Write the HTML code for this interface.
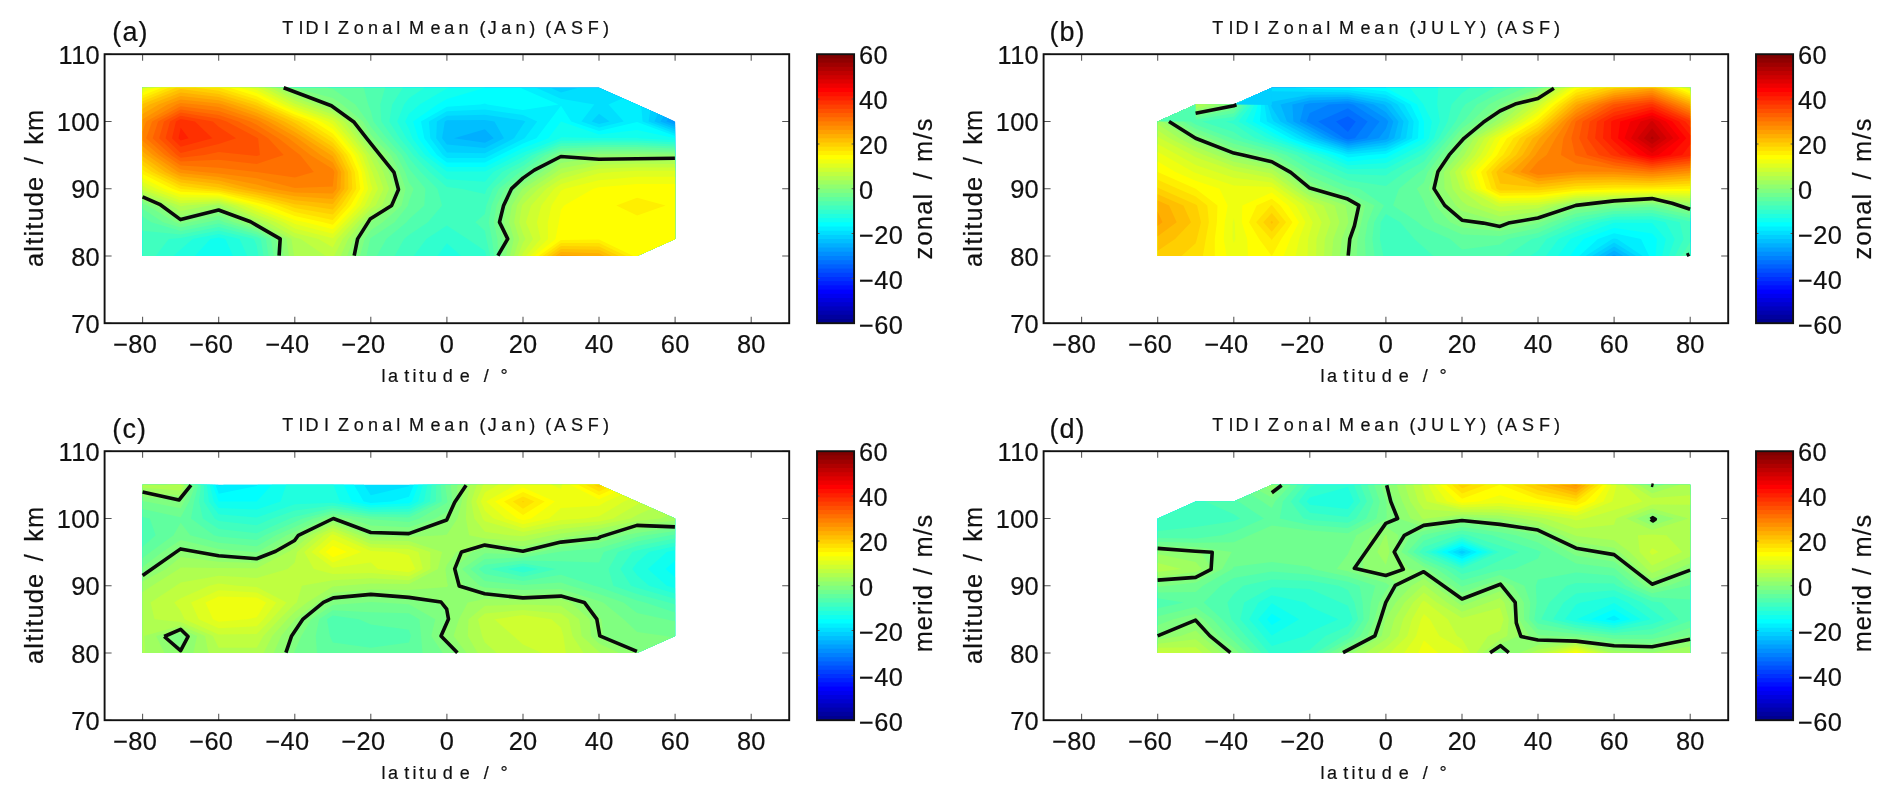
<!DOCTYPE html>
<html lang="en"><head><meta charset="utf-8"><title>TIDI Zonal Mean</title>
<style>
html,body{margin:0;padding:0;background:#fff}
body{width:1892px;height:800px;overflow:hidden}
svg{display:block;filter:blur(.45px);font-family:"Liberation Sans",sans-serif;fill:#111}
text{stroke:#111;stroke-width:.2px}
.t25{font-size:25.4px;letter-spacing:.3px}
.e{text-anchor:end}
.m{text-anchor:middle}
.yl{letter-spacing:1.2px;word-spacing:3px}
.cl{letter-spacing:1.2px;word-spacing:3px}
.cl2{letter-spacing:.9px;word-spacing:1.5px}
.ax{fill:none;stroke:#111;stroke-width:1.9}
.tk{fill:none;stroke:#555;stroke-width:1.05}
.zl{fill:none;stroke:#0a0a0a;stroke-width:3.6;stroke-linejoin:round;stroke-linecap:butt}
</style></head><body>
<svg width="1892" height="800" viewBox="0 0 1892 800">
<rect width="1892" height="800" fill="#fff"/>
<g>
<clipPath id="clipa"><polygon points="142.6,87.8 599,87.8 675.1,121.5 675.1,239.1 637.1,255.9 142.6,255.9"/></clipPath>
<g clip-path="url(#clipa)">
<rect x="135.9" y="80.1" width="545.9" height="183.6" fill="#008fff"/>
<path d="M136.9 82.4L142.6 82.4L180.7 82.4L218.7 82.4L256.7 82.4L294.8 82.4L332.8 82.4L370.8 82.4L408.9 82.4L446.9 82.4L484.9 82.4L523 82.4L561 82.4L599 82.4L637.1 82.4L675.1 82.4L680.8 82.4L680.8 87.8L680.8 104.6L680.8 117.8L675.1 117.8L672.3 121.4L675.1 122.5L680.8 122.5L680.8 138.3L680.8 155.1L680.8 171.9L680.8 188.7L680.8 205.5L680.8 222.3L680.8 239.1L680.8 255.9L680.8 261.3L675.1 261.3L637.1 261.3L599 261.3L561 261.3L523 261.3L484.9 261.3L446.9 261.3L408.9 261.3L370.8 261.3L332.8 261.3L294.8 261.3L256.7 261.3L218.7 261.3L180.7 261.3L142.6 261.3L136.9 261.3L136.9 255.9L136.9 239.1L136.9 222.3L136.9 205.5L136.9 188.7L136.9 171.9L136.9 155.1L136.9 138.3L136.9 121.5L136.9 104.6L136.9 87.8Z" fill="#009fff"/>
<path d="M136.9 82.4L142.6 82.4L180.7 82.4L218.7 82.4L256.7 82.4L294.8 82.4L332.8 82.4L370.8 82.4L408.9 82.4L446.9 82.4L484.9 82.4L523 82.4L561 82.4L599 82.4L637.1 82.4L675.1 82.4L680.8 82.4L680.8 87.8L680.8 104.6L680.8 109.9L675.1 109.9L666.4 121.5L675.1 124.8L680.8 124.8L680.8 138.3L680.8 155.1L680.8 171.9L680.8 188.7L680.8 205.5L680.8 222.3L680.8 239.1L680.8 255.9L680.8 261.3L675.1 261.3L637.1 261.3L599 261.3L561 261.3L523 261.3L484.9 261.3L446.9 261.3L408.9 261.3L370.8 261.3L332.8 261.3L294.8 261.3L256.7 261.3L218.7 261.3L180.7 261.3L142.6 261.3L136.9 261.3L136.9 255.9L136.9 239.1L136.9 222.3L136.9 205.5L136.9 188.7L136.9 171.9L136.9 155.1L136.9 138.3L136.9 121.5L136.9 104.6L136.9 87.8Z" fill="#00afff"/>
<path d="M136.9 82.4L142.6 82.4L180.7 82.4L218.7 82.4L256.7 82.4L294.8 82.4L332.8 82.4L370.8 82.4L408.9 82.4L446.9 82.4L484.9 82.4L523 82.4L561 82.4L599 82.4L637.1 82.4L666.3 82.4L666.3 87.8L671.7 104.6L660.4 121.5L675.1 127L680.8 127L680.8 138.3L680.8 155.1L680.8 171.9L680.8 188.7L680.8 205.5L680.8 222.3L680.8 239.1L680.8 255.9L680.8 261.3L675.1 261.3L637.1 261.3L599 261.3L561 261.3L523 261.3L484.9 261.3L446.9 261.3L408.9 261.3L370.8 261.3L332.8 261.3L294.8 261.3L256.7 261.3L218.7 261.3L180.7 261.3L142.6 261.3L136.9 261.3L136.9 255.9L136.9 239.1L136.9 222.3L136.9 205.5L136.9 188.7L136.9 171.9L136.9 155.1L136.9 138.3L136.9 121.5L136.9 104.6L136.9 87.8ZM484.9 129.2L454 138.3L484.9 142.8L493.8 138.3Z" fill="#00bfff"/>
<path d="M136.9 82.4L142.6 82.4L180.7 82.4L218.7 82.4L256.7 82.4L294.8 82.4L332.8 82.4L370.8 82.4L408.9 82.4L446.9 82.4L484.9 82.4L523 82.4L561 82.4L599 82.4L637.1 82.4L656.1 82.4L656.1 87.8L661.5 104.6L654.5 121.5L675.1 129.3L680.8 129.3L680.8 138.3L680.8 155.1L680.8 171.9L680.8 188.7L680.8 205.5L680.8 222.3L680.8 239.1L680.8 255.9L680.8 261.3L675.1 261.3L637.1 261.3L599 261.3L561 261.3L523 261.3L484.9 261.3L446.9 261.3L408.9 261.3L370.8 261.3L332.8 261.3L294.8 261.3L256.7 261.3L218.7 261.3L180.7 261.3L142.6 261.3L136.9 261.3L136.9 255.9L136.9 239.1L136.9 222.3L136.9 205.5L136.9 188.7L136.9 171.9L136.9 155.1L136.9 138.3L136.9 121.5L136.9 104.6L136.9 87.8ZM446.9 120.2L444.8 121.5L442.1 138.3L446.9 144.6L484.9 148.1L504 138.3L494.4 121.5L484.9 120Z" fill="#00cfff"/>
<path d="M136.9 82.4L142.6 82.4L180.7 82.4L218.7 82.4L256.7 82.4L294.8 82.4L332.8 82.4L370.8 82.4L408.9 82.4L446.9 82.4L484.9 82.4L523 82.4L550.5 82.4L550.5 87.8L561 92.4L578.4 87.8L578.4 82.4L599 82.4L637.1 82.4L645.9 82.4L645.9 87.8L651.3 104.6L648.6 121.5L675.1 131.5L680.8 131.5L680.8 138.3L680.8 155.1L680.8 171.9L680.8 188.7L680.8 205.5L680.8 222.3L680.8 239.1L680.8 255.9L680.8 261.3L675.1 261.3L637.1 261.3L599 261.3L561 261.3L523 261.3L484.9 261.3L446.9 261.3L408.9 261.3L370.8 261.3L332.8 261.3L294.8 261.3L256.7 261.3L218.7 261.3L180.7 261.3L142.6 261.3L136.9 261.3L136.9 255.9L136.9 239.1L136.9 222.3L136.9 205.5L136.9 188.7L136.9 171.9L136.9 155.1L136.9 138.3L136.9 121.5L136.9 104.6L136.9 87.8ZM446.9 115.7L436.9 121.5L436.2 138.3L446.9 152.4L484.9 153.3L514.1 138.3L523 124.6L525.3 121.5L523 120.4L484.9 114.8ZM599 113.7L591.6 121.5L599 124L609.5 121.5Z" fill="#00dfff"/>
<path d="M136.9 82.4L142.6 82.4L180.7 82.4L218.7 82.4L256.7 82.4L294.8 82.4L332.8 82.4L370.8 82.4L408.9 82.4L446.9 82.4L484.9 82.4L523 82.4L536.3 82.4L536.3 87.8L561 98.8L594.3 104.6L581.4 121.5L599 127.5L623.8 121.5L608.5 104.6L637.1 92L641.1 104.6L642.6 121.5L675.1 133.8L680.8 133.8L680.8 138.3L680.8 155.1L680.8 171.9L680.8 188.7L680.8 205.5L680.8 222.3L680.8 239.1L680.8 255.9L680.8 261.3L675.1 261.3L637.1 261.3L599 261.3L561 261.3L523 261.3L484.9 261.3L446.9 261.3L408.9 261.3L370.8 261.3L332.8 261.3L294.8 261.3L256.7 261.3L218.7 261.3L180.7 261.3L142.6 261.3L136.9 261.3L136.9 255.9L136.9 239.1L136.9 222.3L136.9 205.5L136.9 188.7L136.9 171.9L136.9 155.1L136.9 138.3L136.9 121.5L136.9 104.6L136.9 87.8ZM446.9 111.2L428.9 121.5L430.3 138.3L442.9 155.1L446.9 158.1L484.9 158.1L490.9 155.1L523 138.9L524.6 138.3L537.2 121.5L523 115.1L484.9 109.5Z" fill="#00efff"/>
<path d="M136.9 82.4L142.6 82.4L180.7 82.4L218.7 82.4L256.7 82.4L294.8 82.4L332.8 82.4L370.8 82.4L408.9 82.4L446.9 82.4L484.9 82.4L520.6 82.4L520.6 87.8L523 88.9L558.6 104.6L523 109.9L487.3 104.6L484.9 103.6L480.2 104.6L446.9 106.7L421 121.5L424.3 138.3L437 155.1L446.9 162.6L484.9 162.6L499.8 155.1L523 143.4L536.4 138.3L549.1 121.5L561 105.7L571.2 121.5L599 131L637.1 122L675.1 136L680.8 136L680.8 138.3L680.8 155.1L680.8 171.9L680.8 188.7L680.8 205.5L680.8 222.3L680.8 239.1L680.8 255.9L680.8 261.3L675.1 261.3L637.1 261.3L599 261.3L561 261.3L523 261.3L484.9 261.3L446.9 261.3L408.9 261.3L370.8 261.3L332.8 261.3L294.8 261.3L256.7 261.3L218.7 261.3L180.7 261.3L142.6 261.3L136.9 261.3L136.9 255.9L136.9 239.1L136.9 222.3L136.9 205.5L136.9 188.7L136.9 171.9L136.9 155.1L136.9 138.3L136.9 121.5L136.9 104.6L136.9 87.8Z" fill="#00ffff"/>
<path d="M136.9 82.4L142.6 82.4L180.7 82.4L218.7 82.4L256.7 82.4L294.8 82.4L332.8 82.4L370.8 82.4L408.9 82.4L446.9 82.4L484.9 82.4L484.9 87.8L446.9 99L437.4 104.6L413.1 121.5L418.4 138.3L431.1 155.1L446.9 167.1L484.9 167.1L508.7 155.1L523 147.9L548.3 138.3L561 121.5L599 134.5L637.1 129.9L675.1 138.3L675.1 138.3L680.8 138.3L680.8 155.1L680.8 171.9L680.8 188.7L680.8 205.5L680.8 222.3L680.8 239.1L680.8 255.9L680.8 261.3L675.1 261.3L637.1 261.3L599 261.3L561 261.3L523 261.3L484.9 261.3L446.9 261.3L408.9 261.3L370.8 261.3L332.8 261.3L294.8 261.3L256.7 261.3L218.7 261.3L218.7 255.9L218.7 255.9L218.7 255.9L218.7 261.3L180.7 261.3L142.6 261.3L136.9 261.3L136.9 255.9L136.9 239.1L136.9 222.3L136.9 205.5L136.9 188.7L136.9 171.9L136.9 155.1L136.9 138.3L136.9 121.5L136.9 104.6L136.9 87.8Z" fill="#10ffef"/>
<path d="M136.9 82.4L142.6 82.4L180.7 82.4L218.7 82.4L256.7 82.4L294.8 82.4L332.8 82.4L370.8 82.4L408.9 82.4L446.9 82.4L449.3 82.4L449.3 87.8L446.9 88.5L419.6 104.6L408.9 114.1L405.2 121.4L408.9 128.8L412.4 138.3L425.1 155.1L446.9 171.6L484.9 171.6L517.6 155.1L523 152.4L560.2 138.3L561 137.2L599 138L637.1 137.7L639.4 138.3L675.1 140.3L680.8 140.3L680.8 155.1L680.8 171.9L680.8 188.7L680.8 205.5L680.8 222.3L680.8 239.1L680.8 255.9L680.8 261.3L675.1 261.3L637.1 261.3L599 261.3L561 261.3L523 261.3L484.9 261.3L446.9 261.3L408.9 261.3L370.8 261.3L332.8 261.3L294.8 261.3L256.7 261.3L233 261.3L233 255.9L225.4 239.1L218.7 237.5L210.4 239.1L194.9 255.9L194.9 261.3L180.7 261.3L142.6 261.3L136.9 261.3L136.9 255.9L136.9 239.1L136.9 222.3L136.9 205.5L136.9 188.7L136.9 171.9L136.9 155.1L136.9 138.3L136.9 121.5L136.9 104.6L136.9 87.8Z" fill="#20ffdf"/>
<path d="M136.9 82.4L142.6 82.4L180.7 82.4L218.7 82.4L256.7 82.4L294.8 82.4L332.8 82.4L370.8 82.4L408.9 82.4L424.7 82.4L424.7 87.8L408.9 98.3L404.1 104.6L397.2 121.5L406.3 138.3L408.9 141.4L419.2 155.1L438.6 171.9L446.9 179.2L484.9 181.7L493.3 171.9L523 156.9L525.6 155.1L561 140.7L599 140.4L637.1 140.4L675.1 142.3L680.8 142.3L680.8 155.1L680.8 171.9L680.8 188.7L680.8 205.5L680.8 222.3L680.8 239.1L680.8 255.9L680.8 261.3L675.1 261.3L637.1 261.3L599 261.3L561 261.3L523 261.3L484.9 261.3L461.2 261.3L461.2 255.9L446.9 243.3L437.4 255.9L437.4 261.3L408.9 261.3L370.8 261.3L332.8 261.3L294.8 261.3L256.7 261.3L247.2 261.3L247.2 255.9L239.6 239.1L218.7 234L192.6 239.1L180.7 249.6L173.5 255.9L173.5 261.3L142.6 261.3L136.9 261.3L136.9 255.9L136.9 239.1L136.9 222.3L136.9 205.5L136.9 188.7L136.9 171.9L136.9 155.1L136.9 138.3L136.9 121.5L136.9 104.6L136.9 87.8Z" fill="#30ffcf"/>
<path d="M136.9 82.4L142.6 82.4L180.7 82.4L218.7 82.4L256.7 82.4L294.8 82.4L332.8 82.4L370.8 82.4L402.9 82.4L402.9 87.8L392.2 104.6L389.3 121.5L399.8 138.3L408.9 149.3L413.2 155.1L429.7 171.9L446.9 187.1L461.2 188.7L484.9 194L486.9 188.7L502.2 171.9L523 161.4L532 155.1L561 143.3L599 142.6L637.1 142.6L675.1 144.4L680.8 144.4L680.8 155.1L680.8 171.9L680.8 188.7L680.8 205.5L680.8 222.3L680.8 239.1L680.8 255.9L680.8 261.3L675.1 261.3L637.1 261.3L599 261.3L561 261.3L523 261.3L486.3 261.3L486.3 255.9L484.9 250.7L467.5 239.1L446.9 225.5L426.3 239.1L413.6 255.9L413.6 261.3L408.9 261.3L370.8 261.3L332.8 261.3L294.8 261.3L258.4 261.3L258.4 255.9L256.7 245.4L253.9 239.1L218.7 230.5L180.7 238L168.8 239.1L155.7 255.9L155.7 261.3L142.6 261.3L136.9 261.3L136.9 255.9L136.9 239.1L136.9 222.3L136.9 205.5L136.9 188.7L136.9 171.9L136.9 155.1L136.9 138.3L136.9 121.5L136.9 104.6L136.9 87.8Z" fill="#40ffbf"/>
<path d="M136.9 82.4L142.6 82.4L180.7 82.4L218.7 82.4L256.7 82.4L294.8 82.4L332.8 82.4L370.8 82.4L385.1 82.4L385.1 87.8L380.3 104.6L381.4 121.5L393.3 138.3L407.4 155.1L408.9 157.9L420.8 171.9L437.4 188.7L442.1 205.5L427.9 222.3L408.9 234.9L404.1 239.1L394.6 255.9L394.6 261.3L370.8 261.3L332.8 261.3L294.8 261.3L263.5 261.3L263.5 255.9L260.8 239.1L256.7 237L218.7 227L180.7 234.5L142.6 230.7L136.9 230.7L136.9 222.3L136.9 205.5L136.9 188.7L136.9 171.9L136.9 155.1L136.9 138.3L136.9 121.5L136.9 104.6L136.9 87.8ZM538.5 155.1L561 146L599 144.9L637.1 144.9L675.1 146.4L680.8 146.4L680.8 155.1L680.8 171.9L680.8 188.7L680.8 205.5L680.8 222.3L680.8 239.1L680.8 255.9L680.8 261.3L675.1 261.3L637.1 261.3L599 261.3L561 261.3L523 261.3L490.2 261.3L490.2 255.9L486.4 239.1L484.9 230.7L475.4 222.3L484.9 213.9L486.3 205.5L492.9 188.7L511.1 171.9L523 165.9Z" fill="#50ffaf"/>
<path d="M136.9 82.4L142.6 82.4L180.7 82.4L218.7 82.4L256.7 82.4L294.8 82.4L332.8 82.4L363.7 82.4L363.7 87.8L368.2 104.6L370.8 110.9L373.5 121.5L386.8 138.3L401.9 155.1L408.9 168.4L411.8 171.9L425.5 188.7L424.3 205.5L408.9 219.2L406.5 222.3L386.3 239.1L376.8 255.9L376.8 261.3L370.8 261.3L332.8 261.3L294.8 261.3L268.6 261.3L268.6 255.9L265.9 239.1L256.7 234.4L218.7 223.5L180.7 231L151.3 222.3L142.6 216.5L136.9 216.5L136.9 205.5L136.9 188.7L136.9 171.9L136.9 155.1L136.9 138.3L136.9 121.5L136.9 104.6L136.9 87.8ZM545 155.1L561 148.6L599 147.1L637.1 147.1L675.1 148.4L680.8 148.4L680.8 155.1L680.8 171.9L680.8 188.7L680.8 205.5L680.8 222.3L680.8 239.1L680.8 255.9L680.8 261.3L675.1 261.3L637.1 261.3L599 261.3L561 261.3L523 261.3L494.2 261.3L494.2 255.9L491.9 239.1L488.7 222.3L491.4 205.5L498.8 188.7L520 171.9L523 170.4Z" fill="#60ff9f"/>
<path d="M136.9 82.4L142.6 82.4L180.7 82.4L218.7 82.4L256.7 82.4L294.8 82.4L328 82.4L328 87.8L332.8 89L355.3 104.6L367.7 121.5L370.8 126.7L380.3 138.3L396.4 155.1L405.2 171.9L408.9 182.4L413.6 188.7L408.9 201.3L408 205.5L394.6 222.3L370.8 238.1L370.1 239.1L366.5 255.9L366.5 261.3L332.8 261.3L294.8 261.3L273.7 261.3L273.7 255.9L271 239.1L256.7 231.8L224.6 222.3L218.7 219.7L206.8 222.3L180.7 227.5L163.2 222.3L142.6 208.7L136.9 208.7L136.9 205.5L136.9 188.7L136.9 171.9L136.9 155.1L136.9 138.3L136.9 121.5L136.9 104.6L136.9 87.8ZM551.5 155.1L561 151.2L599 149.4L637.1 149.4L675.1 150.5L680.8 150.5L680.8 155.1L680.8 171.9L680.8 188.7L680.8 205.5L680.8 222.3L680.8 239.1L680.8 255.9L680.8 261.3L675.1 261.3L637.1 261.3L599 261.3L561 261.3L523 261.3L498.1 261.3L498.1 255.9L497.4 239.1L493.8 222.3L496.5 205.5L504.7 188.7L523 174.9L527.7 171.9Z" fill="#70ff8f"/>
<path d="M136.9 82.4L142.6 82.4L180.7 82.4L218.7 82.4L256.7 82.4L294.4 82.4L294.4 87.8L294.8 88L332.8 98L342.3 104.6L362.9 121.5L370.8 134.6L373.9 138.3L390.9 155.1L399.7 171.9L405.6 188.7L401.5 205.5L382.7 222.3L370.8 230.2L364.6 239.1L360 255.9L360 261.3L332.8 261.3L294.8 261.3L278.8 261.3L278.8 255.9L276.1 239.1L256.7 229.2L233.6 222.3L218.7 215.8L189 222.3L180.7 224L175.1 222.3L147.4 205.5L142.6 203.8L136.9 203.8L136.9 188.7L136.9 171.9L136.9 155.1L136.9 138.3L136.9 121.5L136.9 104.6L136.9 87.8ZM558 155.1L561 153.8L599 151.6L637.1 151.6L675.1 152.5L680.8 152.5L680.8 155.1L680.8 171.9L680.8 188.7L680.8 205.5L680.8 222.3L680.8 239.1L680.8 255.9L680.8 261.3L675.1 261.3L637.1 261.3L599 261.3L561 261.3L523 261.3L502.1 261.3L502.1 255.9L502.9 239.1L498.9 222.3L501.6 205.5L510.7 188.7L523 179.4L534.9 171.9Z" fill="#80ff80"/>
<path d="M136.9 82.4L142.6 82.4L180.7 82.4L218.7 82.4L256.7 82.4L288.4 82.4L288.4 87.8L294.8 91.2L330.6 104.6L332.8 105.4L358.2 121.5L368.7 138.3L370.8 141.1L385.5 155.1L394.2 171.9L400.1 188.7L395 205.5L370.8 222.3L370.8 222.3L359.1 239.1L353.5 255.9L353.5 261.3L332.8 261.3L294.8 261.3L283.9 261.3L283.9 255.9L281.2 239.1L256.7 226.5L242.5 222.3L218.7 211.8L180.7 219.9L155.3 205.5L142.6 200.9L136.9 200.9L136.9 188.7L136.9 171.9L136.9 155.1L136.9 138.3L136.9 121.5L136.9 104.6L136.9 87.8ZM580 155.1L599 153.9L637.1 153.9L675.1 154.5L680.8 154.5L680.8 155.1L680.8 171.9L680.8 188.7L680.8 205.5L680.8 222.3L680.8 239.1L680.8 255.9L680.8 261.3L675.1 261.3L637.1 261.3L599 261.3L561 261.3L523 261.3L506.1 261.3L506.1 255.9L508.3 239.1L504 222.3L506.7 205.5L516.6 188.7L523 183.9L542 171.9L561 157.9Z" fill="#8fff70"/>
<path d="M136.9 82.4L142.6 82.4L180.7 82.4L218.7 82.4L256.7 82.4L282.5 82.4L282.5 87.8L294.8 94.3L322.2 104.6L332.8 108.4L353.4 121.5L364.8 138.3L370.8 146.3L380 155.1L388.8 171.9L394.6 188.7L388.6 205.5L370.8 217.8L366.4 222.3L353.6 239.1L347.1 255.9L347.1 261.3L332.8 261.3L294.8 261.3L289 261.3L289 255.9L286.3 239.1L256.7 223.9L251.4 222.3L218.7 207.9L180.7 215.4L163.2 205.5L142.6 198.1L136.9 198.1L136.9 188.7L136.9 171.9L136.9 155.1L136.9 138.3L136.9 121.5L136.9 104.6L136.9 87.8ZM549.1 171.9L561 163.1L599 156.9L637.1 156.7L675.1 157.5L680.8 157.5L680.8 171.9L680.8 188.7L680.8 205.5L680.8 222.3L680.8 239.1L680.8 255.9L680.8 261.3L675.1 261.3L637.1 261.3L599 261.3L561 261.3L523 261.3L510 261.3L510 255.9L513.8 239.1L509 222.3L511.8 205.5L522.6 188.7L523 188.4Z" fill="#9fff60"/>
<path d="M136.9 82.4L142.6 82.4L180.7 82.4L218.7 82.4L256.7 82.4L276.5 82.4L276.5 87.8L294.8 97.5L313.8 104.6L332.8 111.4L348.6 121.5L360.8 138.3L370.8 151.6L374.5 155.1L383.3 171.9L389.1 188.7L382.1 205.5L370.8 213.3L361.9 222.3L348.2 239.1L340.6 255.9L340.6 261.3L332.8 261.3L294.8 261.3L294.1 261.3L294.1 255.9L291.4 239.1L259.9 222.3L256.7 221.1L221.6 205.5L218.7 204.8L209.2 205.5L180.7 210.9L171.2 205.5L142.6 195.2L136.9 195.2L136.9 188.7L136.9 171.9L136.9 155.1L136.9 138.3L136.9 121.5L136.9 104.6L136.9 87.8ZM556.2 171.9L561 168.4L599 160.9L637.1 160.2L675.1 160.8L680.8 160.8L680.8 171.9L680.8 188.7L680.8 205.5L680.8 222.3L680.8 239.1L680.8 255.9L680.8 261.3L675.1 261.3L637.1 261.3L599 261.3L561 261.3L523 261.3L514 261.3L514 255.9L519.3 239.1L514.1 222.3L516.9 205.5L523 196.1L530.4 188.7Z" fill="#afff50"/>
<path d="M136.9 82.4L142.6 82.4L180.7 82.4L218.7 82.4L256.7 82.4L270.6 82.4L270.6 87.8L294.8 100.6L305.4 104.6L332.8 114.4L343.9 121.5L356.8 138.3L369.6 155.1L370.8 158.6L377.8 171.9L383.6 188.7L375.6 205.5L370.8 208.8L357.5 222.3L342.7 239.1L334.1 255.9L334.1 261.3L332.8 261.3L325.7 261.3L325.7 255.9L300.7 239.1L294.8 237.6L267.8 222.3L256.7 217.9L228.7 205.5L218.7 202.9L185.4 205.5L180.7 206.4L179.1 205.5L142.6 192.3L136.9 192.3L136.9 188.7L136.9 171.9L136.9 155.1L136.9 138.3L136.9 121.5L136.9 104.6L136.9 87.8ZM566.9 171.9L599 164.8L637.1 163.7L675.1 164.1L680.8 164.1L680.8 171.9L680.8 188.7L680.8 205.5L680.8 222.3L680.8 239.1L680.8 255.9L680.8 261.3L675.1 261.3L637.1 261.3L599 261.3L561 261.3L523 261.3L517.9 261.3L517.9 255.9L523 242.6L525.5 239.1L523 233.9L519.2 222.3L521.9 205.5L523 203.9L538.3 188.7L561 173.6Z" fill="#bfff40"/>
<path d="M136.9 82.4L142.6 82.4L180.7 82.4L218.7 82.4L256.7 82.4L264.7 82.4L264.7 87.8L294.8 103.8L297 104.6L332.8 117.4L339.1 121.5L352.9 138.3L365.8 155.1L370.8 169.1L372.3 171.9L378.1 188.7L370.8 202.7L369.6 205.5L353 222.3L337.2 239.1L332.8 247.5L318.5 239.1L294.8 233.1L275.8 222.3L256.7 214.8L235.8 205.5L218.7 201.1L180.7 203.2L142.6 189.5L136.9 189.5L136.9 188.7L136.9 171.9L136.9 155.1L136.9 138.3L136.9 121.5L136.9 104.6L136.9 87.8ZM584.8 171.9L599 168.7L637.1 167.2L675.1 167.5L680.8 167.5L680.8 171.9L680.8 188.7L680.8 205.5L680.8 222.3L680.8 239.1L680.8 255.9L680.8 261.3L675.1 261.3L637.1 261.3L599 261.3L561 261.3L523 261.3L521.9 261.3L521.9 255.9L523 253.1L533 239.1L525.9 222.3L531.1 205.5L546.2 188.7L561 178.9Z" fill="#cfff30"/>
<path d="M136.9 82.4L142.6 82.4L180.7 82.4L218.7 82.4L256.7 82.4L258.7 82.4L258.7 87.8L290.4 104.6L294.8 106.6L332.8 120.4L334.4 121.5L348.9 138.3L362.1 155.1L368.3 171.9L370.8 183.4L372.7 188.7L370.8 192.2L364.8 205.5L348.5 222.3L332.8 238.2L294.8 228.6L283.7 222.3L256.7 211.6L242.9 205.5L218.7 199.2L180.7 200.4L148.4 188.7L142.6 185.8L136.9 185.8L136.9 171.9L136.9 155.1L136.9 138.3L136.9 121.5L136.9 104.6L136.9 87.8ZM613.3 171.9L637.1 170.7L675.1 170.8L680.8 170.8L680.8 171.9L680.8 188.7L680.8 205.5L680.8 222.3L680.8 239.1L680.8 255.9L680.8 261.3L675.1 261.3L637.1 261.3L599 261.3L561 261.3L526 261.3L526 255.9L540.5 239.1L536.9 222.3L541.3 205.5L554.1 188.7L561 184.1L599 173.3Z" fill="#dfff20"/>
<path d="M147.4 82.4L180.7 82.4L218.7 82.4L249.9 82.4L249.9 87.8L256.7 89.9L284.5 104.6L294.8 109.2L328 121.5L332.8 124.5L344.9 138.3L358.3 155.1L364.9 171.9L368.2 188.7L360.1 205.5L344.1 222.3L332.8 233.7L294.8 224.1L291.6 222.3L256.7 208.5L250.1 205.5L218.7 197.4L180.7 197.5L156.4 188.7L142.6 181.9L136.9 181.9L136.9 171.9L136.9 155.1L136.9 138.3L136.9 121.5L136.9 104.6L136.9 89.7L142.6 89.7L147.4 87.8ZM564.8 188.7L599 180.3L637.1 176.8L675.1 176.8L680.8 176.8L680.8 188.7L680.8 205.5L680.8 222.3L680.8 239.1L680.8 255.9L680.8 261.3L675.1 261.3L637.1 261.3L599 261.3L561 261.3L530.2 261.3L530.2 255.9L548 239.1L547.8 222.3L551.5 205.5L561 190.8Z" fill="#efff10"/>
<path d="M154.5 82.4L180.7 82.4L218.7 82.4L239.8 82.4L239.8 87.8L256.7 93.1L278.5 104.6L294.8 111.8L320.9 121.5L332.8 129L341 138.3L354.6 155.1L361.6 171.9L364.2 188.7L355.3 205.5L339.6 222.3L332.8 229.2L305.5 222.3L294.8 220L257.4 205.5L256.7 205.3L218.7 195.5L180.7 194.6L164.3 188.7L142.6 177.9L136.9 177.9L136.9 171.9L136.9 155.1L136.9 138.3L136.9 121.5L136.9 104.6L136.9 92.6L142.6 92.6L154.5 87.8ZM593.3 188.7L599 187.3L637.1 184.1L675.1 184.1L680.8 184.1L680.8 188.7L680.8 205.5L680.8 222.3L680.8 239.1L680.8 246.5L675.1 246.5L653.7 255.9L653.7 261.3L637.1 261.3L599 261.3L561 261.3L534.4 261.3L534.4 255.9L555.5 239.1L558.8 222.3L561 209.7L564.2 205.5Z" fill="#ffff00"/>
<path d="M161.6 82.4L180.7 82.4L218.7 82.4L229.6 82.4L229.6 87.8L256.7 96.2L272.6 104.6L294.8 114.4L313.8 121.5L332.8 133.5L337 138.3L350.8 155.1L358.2 171.9L360.3 188.7L350.5 205.5L335.2 222.3L332.8 224.7L323.3 222.3L294.8 216L267.6 205.5L256.7 202.7L218.7 193.6L180.7 191.8L172.2 188.7L142.6 174L136.9 174L136.9 171.9L136.9 155.1L136.9 138.3L136.9 121.5L136.9 104.6L136.9 95.5L142.6 95.5L161.6 87.8ZM616.3 205.5L637.1 197.8L665.6 205.5L637.1 215.6ZM538.6 255.9L561 239.9L599 239.5L633.3 255.9L633.3 261.3L599 261.3L561 261.3L538.6 261.3Z" fill="#ffef00"/>
<path d="M168.8 82.4L180.7 82.4L218.7 82.4L219.4 82.4L219.4 87.8L256.7 99.4L266.6 104.6L294.8 117.1L306.7 121.5L332.8 138L333.1 138.3L347.1 155.1L354.8 171.9L356.3 188.7L345.8 205.5L332.8 219.9L294.8 212.1L277.8 205.5L256.7 200.1L218.7 191.8L180.7 188.9L180.1 188.7L145.7 171.9L142.6 169.8L136.9 169.8L136.9 155.1L136.9 138.3L136.9 121.5L136.9 104.6L136.9 98.3L142.6 98.3L168.8 87.8ZM542.8 255.9L561 242.9L599 242.9L626.1 255.9L626.1 261.3L599 261.3L561 261.3L542.8 261.3Z" fill="#ffdf00"/>
<path d="M175.9 82.4L180.7 82.4L196.5 82.4L196.5 87.8L218.7 90.8L256.7 102.5L260.7 104.6L294.8 119.7L299.5 121.5L326.1 138.3L332.8 142.5L343.3 155.1L351.4 171.9L352.3 188.7L341 205.5L332.8 214.6L294.8 208.1L288 205.5L256.7 197.5L218.7 189.9L202.9 188.7L180.7 185.8L152.1 171.9L142.6 165.3L136.9 165.3L136.9 155.1L136.9 138.3L136.9 121.5L136.9 104.6L136.9 101.2L142.6 101.2L175.9 87.8ZM547 255.9L561 245.9L599 246.4L619 255.9L619 261.3L599 261.3L561 261.3L547 261.3Z" fill="#ffcf00"/>
<path d="M136.9 104.6L136.9 104.1L142.6 104.1L180.7 89L218.7 93.9L253.3 104.6L256.7 105.8L292.1 121.5L294.8 123L319 138.3L332.8 147L339.6 155.1L348 171.9L348.4 188.7L336.3 205.5L332.8 209.4L306.7 205.5L294.8 204.2L256.7 194.8L223.5 188.7L218.7 187.5L180.7 182.6L158.6 171.9L142.6 160.8L136.9 160.8L136.9 155.1L136.9 138.3L136.9 121.5ZM551.2 255.9L561 248.9L599 249.8L611.9 255.9L611.9 261.3L599 261.3L561 261.3L551.2 261.3Z" fill="#ffbf00"/>
<path d="M149.8 104.6L180.7 92.5L218.7 97.1L243.2 104.6L256.7 109.3L284.2 121.5L294.8 127.5L311.9 138.3L332.8 151.5L335.8 155.1L344.6 171.9L344.4 188.7L332.8 204.1L294.8 200.3L256.7 192.2L237.7 188.7L218.7 184L180.7 179.5L165.1 171.9L142.6 156.3L136.9 156.3L136.9 155.1L136.9 138.3L136.9 121.5L136.9 108.8L142.6 108.8ZM555.4 255.9L561 251.9L599 253.2L604.7 255.9L604.7 261.3L599 261.3L561 261.3L555.4 261.3Z" fill="#ffaf00"/>
<path d="M158.7 104.6L180.7 96L218.7 100.2L233 104.6L256.7 112.8L276.3 121.5L294.8 132L304.8 138.3L330.8 155.1L332.8 156.3L341.2 171.9L340.5 188.7L332.8 198.9L294.8 196.3L256.7 189.6L252 188.7L218.7 180.5L180.7 176.3L171.6 171.9L147 155.1L142.6 151.2L136.9 151.2L136.9 138.3L136.9 121.5L136.9 114.1L142.6 114.1ZM559.6 255.9L561 254.9L584.8 255.9L584.8 261.3L561 261.3L559.6 261.3Z" fill="#ff9f00"/>
<path d="M167.6 104.6L180.7 99.5L218.7 103.4L222.8 104.6L256.7 116.3L268.4 121.5L294.8 136.5L297.6 138.3L320.6 155.1L332.8 162.6L337.8 171.9L336.5 188.7L332.8 193.6L294.8 192.4L272.6 188.7L256.7 184.5L218.7 177L180.7 173.1L178.1 171.9L152.9 155.1L142.6 146L136.9 146L136.9 138.3L136.9 121.5L136.9 119.3L142.6 119.3Z" fill="#ff8f00"/>
<path d="M176.5 104.6L180.7 103L197.3 104.6L218.7 107L256.7 119.8L260.4 121.5L288.7 138.3L294.8 143L310.4 155.1L332.8 168.9L334.4 171.9L332.8 186.6L294.8 188L256.7 178.2L218.7 173.5L202.1 171.9L180.7 169.5L158.9 155.1L142.6 140.7L136.9 140.7L136.9 138.3L136.9 130.9L142.6 130.9L146.2 121.5Z" fill="#ff8000"/>
<path d="M152.1 121.5L180.7 106.3L218.7 110.9L250.4 121.5L256.7 124.8L278.5 138.3L294.8 150.9L300.2 155.1L313.8 171.9L294.8 177.5L256.7 171.9L256.7 171.9L218.7 167.7L180.7 165.6L164.8 155.1L146.1 138.3Z" fill="#ff7000"/>
<path d="M158.1 121.5L180.7 109.5L218.7 114.9L238.5 121.5L256.7 131.1L268.3 138.3L283.7 155.1L256.7 164L218.7 159.8L180.7 161.6L170.8 155.1L152.6 138.3Z" fill="#ff6000"/>
<path d="M164 121.5L180.7 112.6L218.7 118.8L226.6 121.5L256.7 137.4L258.1 138.3L259.9 155.1L256.7 156.1L247.2 155.1L218.7 151.9L204.4 155.1L180.7 157.7L176.7 155.1L159.1 138.3Z" fill="#ff5000"/>
<path d="M170 121.5L180.7 115.8L212.8 121.5L218.7 126.7L236.1 138.3L218.7 144L180.7 153L165.5 138.3Z" fill="#ff4000"/>
<path d="M175.9 121.5L180.7 118.9L194.9 121.5L212.4 138.3L180.7 146.7L172 138.3Z" fill="#ff3000"/>
<path d="M178.5 138.3L180.7 127.8L188.6 138.3L180.7 140.4Z" fill="#ff2000"/>
</g>
<polyline points="142.6,196.8 159.7,204.3 180.6,219.6 218.6,210 250.6,221.8 280.2,238.9 279.1,255.7" class="zl"/>
<polyline points="283.7,87.8 303,95 331.4,105.7 354.2,122.3 366.7,138.3 380.3,155.3 394,172.4 398.5,189.5 391.7,205.4 370.1,219.1 357.6,238.9 354.2,255.7" class="zl"/>
<polyline points="497.9,255.7 507.7,238.9 499.5,222.1 503.6,205.4 511.6,188.6 522.9,178.1 534.3,170.1 560.9,156.5 598.9,159.2 636.9,158.8 674.9,158.3" class="zl"/>
<path d="M142.6 323.2v-6.5M142.6 54.2v6.5M218.7 323.2v-6.5M218.7 54.2v6.5M294.8 323.2v-6.5M294.8 54.2v6.5M370.8 323.2v-6.5M370.8 54.2v6.5M446.9 323.2v-6.5M446.9 54.2v6.5M523 323.2v-6.5M523 54.2v6.5M599 323.2v-6.5M599 54.2v6.5M675.1 323.2v-6.5M675.1 54.2v6.5M751.2 323.2v-6.5M751.2 54.2v6.5M104.6 323.2h7M789.2 323.2h-7M104.6 255.9h7M789.2 255.9h-7M104.6 188.7h7M789.2 188.7h-7M104.6 121.5h7M789.2 121.5h-7M104.6 54.2h7M789.2 54.2h-7" class="tk"/>
<rect x="104.6" y="54.2" width="684.6" height="269" class="ax"/>
<text x="113.2" y="352.8" class="t25">−80</text>
<text x="189.3" y="352.8" class="t25">−60</text>
<text x="265.4" y="352.8" class="t25">−40</text>
<text x="341.4" y="352.8" class="t25">−20</text>
<text x="439.8" y="352.8" class="t25">0</text>
<text x="508.7" y="352.8" class="t25">20</text>
<text x="584.8" y="352.8" class="t25">40</text>
<text x="660.8" y="352.8" class="t25">60</text>
<text x="736.9" y="352.8" class="t25">80</text>
<text x="100" y="332.8" class="t25 e">70</text>
<text x="100" y="265.6" class="t25 e">80</text>
<text x="100" y="198.3" class="t25 e">90</text>
<text x="100" y="131.1" class="t25 e">100</text>
<text x="100" y="63.8" class="t25 e">110</text>
<text transform="translate(42.9 187.8) rotate(-90)" class="t25 m yl">altitude / km</text>
<text y="34" x="282.3 298.4 305.6 323.9 328.9 338 353.7 367.9 382.2 396.2 400.2 409.1 430.5 444.3 458.5 468.6 479.6 487.8 501.3 515.4 529.3 535.3 545.3 553.9 571 587.7 603" font-size="18">TIDI Zonal Mean (Jan) (ASF)</text>
<text y="381.9" x="381.6 387.9 404.2 412.4 419.1 426.7 442.8 459.7 469.8 483.7 488.7 500.4" font-size="18">latitude / °</text>
<text x="112.3" y="41" font-size="27" letter-spacing="1.1">(a)</text>
<rect x="817" y="54.2" width="37.1" height="269" fill="#00008f"/>
<rect x="817" y="54.2" width="37.1" height="264.8" fill="#00009f"/>
<rect x="817" y="54.2" width="37.1" height="260.6" fill="#0000af"/>
<rect x="817" y="54.2" width="37.1" height="256.4" fill="#0000bf"/>
<rect x="817" y="54.2" width="37.1" height="252.2" fill="#0000cf"/>
<rect x="817" y="54.2" width="37.1" height="248" fill="#0000df"/>
<rect x="817" y="54.2" width="37.1" height="243.8" fill="#0000ef"/>
<rect x="817" y="54.2" width="37.1" height="239.6" fill="#0000ff"/>
<rect x="817" y="54.2" width="37.1" height="235.4" fill="#0010ff"/>
<rect x="817" y="54.2" width="37.1" height="231.2" fill="#0020ff"/>
<rect x="817" y="54.2" width="37.1" height="227" fill="#0030ff"/>
<rect x="817" y="54.2" width="37.1" height="222.8" fill="#0040ff"/>
<rect x="817" y="54.2" width="37.1" height="218.6" fill="#0050ff"/>
<rect x="817" y="54.2" width="37.1" height="214.4" fill="#0060ff"/>
<rect x="817" y="54.2" width="37.1" height="210.2" fill="#0070ff"/>
<rect x="817" y="54.2" width="37.1" height="206" fill="#0080ff"/>
<rect x="817" y="54.2" width="37.1" height="201.8" fill="#008fff"/>
<rect x="817" y="54.2" width="37.1" height="197.5" fill="#009fff"/>
<rect x="817" y="54.2" width="37.1" height="193.3" fill="#00afff"/>
<rect x="817" y="54.2" width="37.1" height="189.1" fill="#00bfff"/>
<rect x="817" y="54.2" width="37.1" height="184.9" fill="#00cfff"/>
<rect x="817" y="54.2" width="37.1" height="180.7" fill="#00dfff"/>
<rect x="817" y="54.2" width="37.1" height="176.5" fill="#00efff"/>
<rect x="817" y="54.2" width="37.1" height="172.3" fill="#00ffff"/>
<rect x="817" y="54.2" width="37.1" height="168.1" fill="#10ffef"/>
<rect x="817" y="54.2" width="37.1" height="163.9" fill="#20ffdf"/>
<rect x="817" y="54.2" width="37.1" height="159.7" fill="#30ffcf"/>
<rect x="817" y="54.2" width="37.1" height="155.5" fill="#40ffbf"/>
<rect x="817" y="54.2" width="37.1" height="151.3" fill="#50ffaf"/>
<rect x="817" y="54.2" width="37.1" height="147.1" fill="#60ff9f"/>
<rect x="817" y="54.2" width="37.1" height="142.9" fill="#70ff8f"/>
<rect x="817" y="54.2" width="37.1" height="138.7" fill="#80ff80"/>
<rect x="817" y="54.2" width="37.1" height="134.5" fill="#8fff70"/>
<rect x="817" y="54.2" width="37.1" height="130.3" fill="#9fff60"/>
<rect x="817" y="54.2" width="37.1" height="126.1" fill="#afff50"/>
<rect x="817" y="54.2" width="37.1" height="121.9" fill="#bfff40"/>
<rect x="817" y="54.2" width="37.1" height="117.7" fill="#cfff30"/>
<rect x="817" y="54.2" width="37.1" height="113.5" fill="#dfff20"/>
<rect x="817" y="54.2" width="37.1" height="109.3" fill="#efff10"/>
<rect x="817" y="54.2" width="37.1" height="105.1" fill="#ffff00"/>
<rect x="817" y="54.2" width="37.1" height="100.9" fill="#ffef00"/>
<rect x="817" y="54.2" width="37.1" height="96.7" fill="#ffdf00"/>
<rect x="817" y="54.2" width="37.1" height="92.5" fill="#ffcf00"/>
<rect x="817" y="54.2" width="37.1" height="88.3" fill="#ffbf00"/>
<rect x="817" y="54.2" width="37.1" height="84.1" fill="#ffaf00"/>
<rect x="817" y="54.2" width="37.1" height="79.9" fill="#ff9f00"/>
<rect x="817" y="54.2" width="37.1" height="75.7" fill="#ff8f00"/>
<rect x="817" y="54.2" width="37.1" height="71.5" fill="#ff8000"/>
<rect x="817" y="54.2" width="37.1" height="67.2" fill="#ff7000"/>
<rect x="817" y="54.2" width="37.1" height="63" fill="#ff6000"/>
<rect x="817" y="54.2" width="37.1" height="58.8" fill="#ff5000"/>
<rect x="817" y="54.2" width="37.1" height="54.6" fill="#ff4000"/>
<rect x="817" y="54.2" width="37.1" height="50.4" fill="#ff3000"/>
<rect x="817" y="54.2" width="37.1" height="46.2" fill="#ff2000"/>
<rect x="817" y="54.2" width="37.1" height="42" fill="#ff1000"/>
<rect x="817" y="54.2" width="37.1" height="37.8" fill="#ff0000"/>
<rect x="817" y="54.2" width="37.1" height="33.6" fill="#ef0000"/>
<rect x="817" y="54.2" width="37.1" height="29.4" fill="#df0000"/>
<rect x="817" y="54.2" width="37.1" height="25.2" fill="#cf0000"/>
<rect x="817" y="54.2" width="37.1" height="21" fill="#bf0000"/>
<rect x="817" y="54.2" width="37.1" height="16.8" fill="#af0000"/>
<rect x="817" y="54.2" width="37.1" height="12.6" fill="#9f0000"/>
<rect x="817" y="54.2" width="37.1" height="8.4" fill="#8f0000"/>
<rect x="817" y="54.2" width="37.1" height="4.2" fill="#800000"/>
<path d="M817 278.4h2.5M854.1 278.4h-2.5M817 233.5h2.5M854.1 233.5h-2.5M817 188.7h2.5M854.1 188.7h-2.5M817 143.9h2.5M854.1 143.9h-2.5M817 99h2.5M854.1 99h-2.5" class="tk"/>
<rect x="817" y="54.2" width="37.1" height="269" class="ax"/>
<text x="859.1" y="63.6" class="t25">60</text>
<text x="859.1" y="108.6" class="t25">40</text>
<text x="859.1" y="153.6" class="t25">20</text>
<text x="859.1" y="198.6" class="t25">0</text>
<text x="859.1" y="243.6" class="t25">−20</text>
<text x="859.1" y="288.6" class="t25">−40</text>
<text x="859.1" y="333.6" class="t25">−60</text>
<text transform="translate(931.5 188.4) rotate(-90)" dx="0 0 0 0 0 0 2 -2" class="t25 m cl">zonal / m/s</text>
</g>
<g>
<clipPath id="clipb"><polygon points="1157.7,121.5 1195.7,104.6 1233.8,104.6 1271.8,87.8 1690.2,87.8 1690.2,255.9 1157.7,255.9"/></clipPath>
<g clip-path="url(#clipb)">
<rect x="1151" y="80.1" width="545.9" height="183.6" fill="#0060ff"/>
<path d="M1152 82.4L1157.7 82.4L1195.7 82.4L1233.8 82.4L1271.8 82.4L1309.8 82.4L1347.9 82.4L1385.9 82.4L1423.9 82.4L1462 82.4L1500 82.4L1538 82.4L1576.1 82.4L1614.1 82.4L1652.1 82.4L1690.2 82.4L1695.9 82.4L1695.9 87.8L1695.9 104.6L1695.9 121.5L1695.9 138.3L1695.9 155.1L1695.9 171.9L1695.9 188.7L1695.9 205.5L1695.9 222.3L1695.9 239.1L1695.9 255.9L1695.9 261.3L1690.2 261.3L1652.1 261.3L1614.1 261.3L1576.1 261.3L1538 261.3L1500 261.3L1462 261.3L1423.9 261.3L1385.9 261.3L1347.9 261.3L1309.8 261.3L1271.8 261.3L1233.8 261.3L1195.7 261.3L1157.7 261.3L1152 261.3L1152 255.9L1152 239.1L1152 222.3L1152 205.5L1152 188.7L1152 171.9L1152 155.1L1152 138.3L1152 121.5L1152 104.6L1152 87.8ZM1347.9 116.2L1336 121.5L1347.9 132L1355.8 121.5Z" fill="#0070ff"/>
<path d="M1152 82.4L1157.7 82.4L1195.7 82.4L1233.8 82.4L1271.8 82.4L1309.8 82.4L1347.9 82.4L1385.9 82.4L1423.9 82.4L1462 82.4L1500 82.4L1538 82.4L1576.1 82.4L1614.1 82.4L1652.1 82.4L1690.2 82.4L1695.9 82.4L1695.9 87.8L1695.9 104.6L1695.9 121.5L1695.9 138.3L1695.9 155.1L1695.9 171.9L1695.9 188.7L1695.9 205.5L1695.9 222.3L1695.9 239.1L1695.9 255.9L1695.9 261.3L1690.2 261.3L1652.1 261.3L1614.1 261.3L1576.1 261.3L1538 261.3L1500 261.3L1462 261.3L1423.9 261.3L1385.9 261.3L1347.9 261.3L1309.8 261.3L1271.8 261.3L1233.8 261.3L1195.7 261.3L1157.7 261.3L1152 261.3L1152 255.9L1152 239.1L1152 222.3L1152 205.5L1152 188.7L1152 171.9L1152 155.1L1152 138.3L1152 121.5L1152 104.6L1152 87.8ZM1347.9 108.3L1318.2 121.5L1344 138.3L1347.9 139.5L1355 138.3L1367.7 121.5Z" fill="#0080ff"/>
<path d="M1152 82.4L1157.7 82.4L1195.7 82.4L1233.8 82.4L1271.8 82.4L1309.8 82.4L1347.9 82.4L1385.9 82.4L1423.9 82.4L1462 82.4L1500 82.4L1538 82.4L1576.1 82.4L1614.1 82.4L1652.1 82.4L1690.2 82.4L1695.9 82.4L1695.9 87.8L1695.9 104.6L1695.9 121.5L1695.9 138.3L1695.9 155.1L1695.9 171.9L1695.9 188.7L1695.9 205.5L1695.9 222.3L1695.9 239.1L1695.9 255.9L1695.9 261.3L1690.2 261.3L1652.1 261.3L1614.1 261.3L1576.1 261.3L1538 261.3L1500 261.3L1462 261.3L1423.9 261.3L1385.9 261.3L1347.9 261.3L1309.8 261.3L1271.8 261.3L1233.8 261.3L1195.7 261.3L1157.7 261.3L1152 261.3L1152 255.9L1152 239.1L1152 222.3L1152 205.5L1152 188.7L1152 171.9L1152 155.1L1152 138.3L1152 121.5L1152 104.6L1152 87.8ZM1347.9 103.4L1328.8 104.6L1309.8 113L1306.4 121.5L1309.8 123.3L1337.5 138.3L1347.9 141.6L1366.9 138.3L1379.6 121.5L1353.3 104.6Z" fill="#008fff"/>
<path d="M1152 82.4L1157.7 82.4L1195.7 82.4L1233.8 82.4L1271.8 82.4L1309.8 82.4L1347.9 82.4L1385.9 82.4L1423.9 82.4L1462 82.4L1500 82.4L1538 82.4L1576.1 82.4L1614.1 82.4L1652.1 82.4L1690.2 82.4L1695.9 82.4L1695.9 87.8L1695.9 104.6L1695.9 121.5L1695.9 138.3L1695.9 155.1L1695.9 171.9L1695.9 188.7L1695.9 205.5L1695.9 222.3L1695.9 239.1L1695.9 255.9L1695.9 261.3L1690.2 261.3L1652.1 261.3L1614.1 261.3L1576.1 261.3L1538 261.3L1500 261.3L1462 261.3L1423.9 261.3L1385.9 261.3L1347.9 261.3L1309.8 261.3L1271.8 261.3L1233.8 261.3L1195.7 261.3L1157.7 261.3L1152 261.3L1152 255.9L1152 239.1L1152 222.3L1152 205.5L1152 188.7L1152 171.9L1152 155.1L1152 138.3L1152 121.5L1152 104.6L1152 87.8ZM1309.8 103.3L1304.3 104.6L1299.9 121.5L1309.8 126.8L1331 138.3L1347.9 143.7L1378.8 138.3L1385.9 128.8L1388.3 121.5L1385.9 118.5L1363.5 104.6L1347.9 101.2Z" fill="#009fff"/>
<path d="M1152 82.4L1157.7 82.4L1195.7 82.4L1233.8 82.4L1271.8 82.4L1309.8 82.4L1347.9 82.4L1385.9 82.4L1423.9 82.4L1462 82.4L1500 82.4L1538 82.4L1576.1 82.4L1614.1 82.4L1652.1 82.4L1690.2 82.4L1695.9 82.4L1695.9 87.8L1695.9 104.6L1695.9 121.5L1695.9 138.3L1695.9 155.1L1695.9 171.9L1695.9 188.7L1695.9 205.5L1695.9 222.3L1695.9 239.1L1695.9 255.9L1695.9 261.3L1690.2 261.3L1652.1 261.3L1616.7 261.3L1616.7 255.9L1614.1 254.4L1611.5 255.9L1611.5 261.3L1576.1 261.3L1538 261.3L1500 261.3L1462 261.3L1423.9 261.3L1385.9 261.3L1347.9 261.3L1309.8 261.3L1271.8 261.3L1233.8 261.3L1195.7 261.3L1157.7 261.3L1152 261.3L1152 255.9L1152 239.1L1152 222.3L1152 205.5L1152 188.7L1152 171.9L1152 155.1L1152 138.3L1152 121.5L1152 104.6L1152 87.8ZM1309.8 100.4L1292.4 104.6L1293.4 121.5L1309.8 130.3L1324.5 138.3L1347.9 145.8L1385.9 139.4L1388.3 138.3L1393.4 121.5L1385.9 112.2L1373.7 104.6L1347.9 98.9Z" fill="#00afff"/>
<path d="M1152 82.4L1157.7 82.4L1195.7 82.4L1233.8 82.4L1271.8 82.4L1309.8 82.4L1347.9 82.4L1385.9 82.4L1423.9 82.4L1462 82.4L1500 82.4L1538 82.4L1576.1 82.4L1614.1 82.4L1652.1 82.4L1690.2 82.4L1695.9 82.4L1695.9 87.8L1695.9 104.6L1695.9 121.5L1695.9 138.3L1695.9 155.1L1695.9 171.9L1695.9 188.7L1695.9 205.5L1695.9 222.3L1695.9 239.1L1695.9 255.9L1695.9 261.3L1690.2 261.3L1652.1 261.3L1623.2 261.3L1623.2 255.9L1614.1 250.4L1605 255.9L1605 261.3L1576.1 261.3L1538 261.3L1500 261.3L1462 261.3L1423.9 261.3L1385.9 261.3L1347.9 261.3L1309.8 261.3L1271.8 261.3L1233.8 261.3L1195.7 261.3L1157.7 261.3L1152 261.3L1152 255.9L1152 239.1L1152 222.3L1152 205.5L1152 188.7L1152 171.9L1152 155.1L1152 138.3L1152 121.5L1152 104.6L1152 87.8ZM1309.8 97.6L1280.5 104.6L1286.9 121.5L1309.8 133.8L1318 138.3L1347.9 147.9L1385.9 142.3L1394.2 138.3L1398.5 121.5L1385.9 105.9L1383.9 104.6L1347.9 96.7Z" fill="#00bfff"/>
<path d="M1152 82.4L1157.7 82.4L1195.7 82.4L1233.8 82.4L1271.8 82.4L1309.8 82.4L1347.9 82.4L1385.9 82.4L1423.9 82.4L1462 82.4L1500 82.4L1538 82.4L1576.1 82.4L1614.1 82.4L1652.1 82.4L1690.2 82.4L1695.9 82.4L1695.9 87.8L1695.9 104.6L1695.9 121.5L1695.9 138.3L1695.9 155.1L1695.9 171.9L1695.9 188.7L1695.9 205.5L1695.9 222.3L1695.9 239.1L1695.9 255.9L1695.9 261.3L1690.2 261.3L1652.1 261.3L1629.7 261.3L1629.7 255.9L1614.1 246.5L1598.5 255.9L1598.5 261.3L1576.1 261.3L1538 261.3L1500 261.3L1462 261.3L1423.9 261.3L1385.9 261.3L1347.9 261.3L1309.8 261.3L1271.8 261.3L1233.8 261.3L1195.7 261.3L1157.7 261.3L1152 261.3L1152 255.9L1152 239.1L1152 222.3L1152 205.5L1152 188.7L1152 171.9L1152 155.1L1152 138.3L1152 121.5L1152 104.6L1152 87.8ZM1271.8 101.8L1270.9 104.6L1271.8 107.4L1280.4 121.5L1309.8 137.3L1311.6 138.3L1347.9 150L1385.9 145.1L1400.2 138.3L1403.6 121.5L1391.1 104.6L1385.9 101.8L1347.9 94.4L1309.8 94.7Z" fill="#00cfff"/>
<path d="M1152 82.4L1157.7 82.4L1195.7 82.4L1233.8 82.4L1271.8 82.4L1309.8 82.4L1347.9 82.4L1385.9 82.4L1423.9 82.4L1462 82.4L1500 82.4L1538 82.4L1576.1 82.4L1614.1 82.4L1652.1 82.4L1690.2 82.4L1695.9 82.4L1695.9 87.8L1695.9 104.6L1695.9 121.5L1695.9 138.3L1695.9 155.1L1695.9 171.9L1695.9 188.7L1695.9 205.5L1695.9 222.3L1695.9 239.1L1695.9 255.9L1695.9 261.3L1690.2 261.3L1652.1 261.3L1636.1 261.3L1636.1 255.9L1614.1 242.6L1592.1 255.9L1592.1 261.3L1576.1 261.3L1538 261.3L1500 261.3L1462 261.3L1423.9 261.3L1385.9 261.3L1347.9 261.3L1309.8 261.3L1271.8 261.3L1233.8 261.3L1195.7 261.3L1157.7 261.3L1152 261.3L1152 255.9L1152 239.1L1152 222.3L1152 205.5L1152 188.7L1152 171.9L1152 155.1L1152 138.3L1152 121.5L1152 104.6L1152 87.8ZM1271.8 91.3L1267.7 104.6L1271.8 117.9L1274 121.5L1304.6 138.3L1309.8 140.2L1347.9 152.1L1385.9 148L1406.1 138.3L1408.7 121.5L1397.6 104.6L1385.9 98.3L1347.9 92.2L1309.8 91.8Z" fill="#00dfff"/>
<path d="M1152 82.4L1157.7 82.4L1195.7 82.4L1227.8 82.4L1227.8 87.8L1233.8 88.9L1264.5 104.6L1267 121.5L1271.8 124.1L1297.5 138.3L1309.8 142.8L1347.9 154.2L1385.9 150.9L1412 138.3L1413.7 121.5L1404.1 104.6L1385.9 94.8L1347.9 89.9L1309.8 89L1295.6 87.8L1295.6 82.4L1309.8 82.4L1347.9 82.4L1385.9 82.4L1423.9 82.4L1462 82.4L1500 82.4L1538 82.4L1576.1 82.4L1614.1 82.4L1652.1 82.4L1690.2 82.4L1695.9 82.4L1695.9 87.8L1695.9 104.6L1695.9 121.5L1695.9 138.3L1695.9 155.1L1695.9 171.9L1695.9 188.7L1695.9 205.5L1695.9 222.3L1695.9 239.1L1695.9 255.9L1695.9 261.3L1690.2 261.3L1652.1 261.3L1642.6 261.3L1642.6 255.9L1617.3 239.1L1614.1 238.4L1612.2 239.1L1585.6 255.9L1585.6 261.3L1576.1 261.3L1538 261.3L1500 261.3L1462 261.3L1423.9 261.3L1385.9 261.3L1347.9 261.3L1309.8 261.3L1271.8 261.3L1233.8 261.3L1195.7 261.3L1157.7 261.3L1152 261.3L1152 255.9L1152 239.1L1152 222.3L1152 205.5L1152 188.7L1152 171.9L1152 155.1L1152 138.3L1152 121.5L1152 104.6L1152 87.8Z" fill="#00efff"/>
<path d="M1152 82.4L1157.7 82.4L1195.7 82.4L1218.9 82.4L1218.9 87.8L1233.8 90.6L1261.2 104.6L1259.9 121.5L1271.8 128L1290.3 138.3L1309.8 145.4L1342.5 155.1L1347.9 157.4L1369.3 155.1L1385.9 153.7L1418 138.3L1418.8 121.5L1410.5 104.6L1385.9 91.3L1350.2 87.8L1350.2 82.4L1385.9 82.4L1423.9 82.4L1462 82.4L1500 82.4L1538 82.4L1576.1 82.4L1614.1 82.4L1652.1 82.4L1690.2 82.4L1695.9 82.4L1695.9 87.8L1695.9 104.6L1695.9 121.5L1695.9 138.3L1695.9 155.1L1695.9 171.9L1695.9 188.7L1695.9 205.5L1695.9 222.3L1695.9 239.1L1695.9 255.9L1695.9 261.3L1690.2 261.3L1652.1 261.3L1649.1 261.3L1649.1 255.9L1641 239.1L1614.1 233.2L1597.9 239.1L1579.1 255.9L1579.1 261.3L1576.1 261.3L1538 261.3L1500 261.3L1462 261.3L1423.9 261.3L1385.9 261.3L1347.9 261.3L1309.8 261.3L1271.8 261.3L1233.8 261.3L1195.7 261.3L1157.7 261.3L1152 261.3L1152 255.9L1152 239.1L1152 222.3L1152 205.5L1152 188.7L1152 171.9L1152 155.1L1152 138.3L1152 121.5L1152 104.6L1152 87.8Z" fill="#00ffff"/>
<path d="M1152 82.4L1157.7 82.4L1195.7 82.4L1210 82.4L1210 87.8L1233.8 92.2L1258 104.6L1252.8 121.5L1271.8 132L1283.2 138.3L1309.8 148.1L1333.6 155.1L1347.9 161.4L1385.9 157.9L1391.3 155.1L1423.9 138.3L1423.9 138.3L1423.9 121.5L1423.9 121.5L1417 104.6L1385.9 87.8L1385.9 82.4L1423.9 82.4L1462 82.4L1500 82.4L1538 82.4L1576.1 82.4L1614.1 82.4L1652.1 82.4L1690.2 82.4L1695.9 82.4L1695.9 87.8L1695.9 104.6L1695.9 121.5L1695.9 138.3L1695.9 155.1L1695.9 171.9L1695.9 188.7L1695.9 205.5L1695.9 222.3L1695.9 239.1L1695.9 255.9L1695.9 261.3L1690.2 261.3L1655.6 261.3L1655.6 255.9L1656.9 239.1L1652.1 233.5L1614.1 227.9L1583.7 239.1L1576.1 247.5L1569.7 255.9L1569.7 261.3L1538 261.3L1500 261.3L1462 261.3L1423.9 261.3L1385.9 261.3L1347.9 261.3L1309.8 261.3L1271.8 261.3L1233.8 261.3L1195.7 261.3L1157.7 261.3L1152 261.3L1152 255.9L1152 239.1L1152 222.3L1152 205.5L1152 188.7L1152 171.9L1152 155.1L1152 138.3L1152 121.5L1152 104.6L1152 87.8Z" fill="#10ffef"/>
<path d="M1152 82.4L1157.7 82.4L1195.7 82.4L1201.1 82.4L1201.1 87.8L1233.8 93.9L1254.7 104.6L1245.7 121.5L1271.8 135.9L1276.1 138.3L1309.8 150.7L1324.7 155.1L1347.9 165.3L1385.9 163.1L1401.5 155.1L1423.9 143.5L1428.9 138.3L1431.9 121.5L1423.9 105.7L1423.5 104.6L1409.7 87.8L1409.7 82.4L1423.9 82.4L1462 82.4L1500 82.4L1538 82.4L1576.1 82.4L1614.1 82.4L1652.1 82.4L1690.2 82.4L1695.9 82.4L1695.9 87.8L1695.9 104.6L1695.9 121.5L1695.9 138.3L1695.9 155.1L1695.9 171.9L1695.9 188.7L1695.9 205.5L1695.9 222.3L1695.9 239.1L1695.9 255.9L1695.9 261.3L1690.2 261.3L1662.1 261.3L1662.1 255.9L1665.8 239.1L1652.1 223L1614.1 222.7L1576.1 236.7L1570.5 239.1L1557.8 255.9L1557.8 261.3L1538 261.3L1500 261.3L1462 261.3L1423.9 261.3L1385.9 261.3L1347.9 261.3L1309.8 261.3L1271.8 261.3L1233.8 261.3L1195.7 261.3L1157.7 261.3L1152 261.3L1152 255.9L1152 239.1L1152 222.3L1152 205.5L1152 188.7L1152 171.9L1152 155.1L1152 138.3L1152 121.5L1152 104.6L1152 87.8Z" fill="#20ffdf"/>
<path d="M1152 82.4L1157.7 82.4L1181.5 82.4L1181.5 87.8L1195.7 88.5L1233.8 95.6L1251.5 104.6L1238.5 121.5L1267 138.3L1271.8 139.7L1309.8 153.3L1315.8 155.1L1347.9 169.3L1385.9 168.4L1411.7 155.1L1423.9 148.8L1433.8 138.3L1439.8 121.5L1437.2 104.6L1438.2 87.8L1438.2 82.4L1462 82.4L1500 82.4L1538 82.4L1576.1 82.4L1614.1 82.4L1652.1 82.4L1690.2 82.4L1695.9 82.4L1695.9 87.8L1695.9 104.6L1695.9 121.5L1695.9 138.3L1695.9 155.1L1695.9 171.9L1695.9 188.7L1695.9 205.5L1695.9 222.3L1695.9 239.1L1695.9 255.9L1695.9 261.3L1690.2 261.3L1668.6 261.3L1668.6 255.9L1674.7 239.1L1665.4 222.3L1652.1 219.4L1614.1 219.7L1600.8 222.3L1576.1 231.4L1558.6 239.1L1546 255.9L1546 261.3L1538 261.3L1500 261.3L1462 261.3L1423.9 261.3L1385.9 261.3L1347.9 261.3L1309.8 261.3L1271.8 261.3L1233.8 261.3L1195.7 261.3L1157.7 261.3L1152 261.3L1152 255.9L1152 239.1L1152 222.3L1152 205.5L1152 188.7L1152 171.9L1152 155.1L1152 138.3L1152 121.5L1152 104.6L1152 87.8Z" fill="#30ffcf"/>
<path d="M1469.9 82.4L1500 82.4L1538 82.4L1576.1 82.4L1614.1 82.4L1652.1 82.4L1690.2 82.4L1695.9 82.4L1695.9 87.8L1695.9 104.6L1695.9 121.5L1695.9 138.3L1695.9 155.1L1695.9 171.9L1695.9 188.7L1695.9 205.5L1695.9 222.3L1695.9 239.1L1695.9 255.9L1695.9 261.3L1690.2 261.3L1675 261.3L1675 255.9L1683.6 239.1L1679.7 222.3L1652.1 216.2L1614.1 216.8L1586.5 222.3L1576.1 226.2L1546.7 239.1L1538 250.7L1530.1 255.9L1530.1 261.3L1500 261.3L1462 261.3L1423.9 261.3L1385.9 261.3L1347.9 261.3L1309.8 261.3L1271.8 261.3L1233.8 261.3L1195.7 261.3L1157.7 261.3L1152 261.3L1152 255.9L1152 239.1L1152 222.3L1152 205.5L1152 188.7L1152 171.9L1152 155.1L1152 138.3L1152 121.5L1152 104.6L1152 93.1L1157.7 93.1L1195.7 90.3L1233.8 97.2L1248.2 104.6L1233.8 120.3L1225.8 121.5L1233.8 124.1L1255.2 138.3L1271.8 143.2L1306.4 155.1L1309.8 157.2L1343.1 171.9L1347.9 174L1385.9 175.4L1390.7 171.9L1421.9 155.1L1423.9 154L1438.7 138.3L1447.7 121.5L1451.5 104.6L1462 93.1L1469.9 87.8Z" fill="#40ffbf"/>
<path d="M1493.7 82.4L1500 82.4L1538 82.4L1576.1 82.4L1614.1 82.4L1652.1 82.4L1690.2 82.4L1695.9 82.4L1695.9 87.8L1695.9 104.6L1695.9 121.5L1695.9 138.3L1695.9 155.1L1695.9 171.9L1695.9 188.7L1695.9 205.5L1695.9 221.4L1690.2 221.4L1652.1 213.1L1614.1 213.9L1576.1 221.3L1573.1 222.3L1538 237.8L1531.7 239.1L1506.3 255.9L1506.3 261.3L1500 261.3L1462 261.3L1433.4 261.3L1433.4 255.9L1423.9 247.5L1414.4 239.1L1400.2 222.3L1385.9 213.9L1380.7 222.3L1379.9 239.1L1383.5 255.9L1383.5 261.3L1347.9 261.3L1309.8 261.3L1271.8 261.3L1233.8 261.3L1195.7 261.3L1157.7 261.3L1152 261.3L1152 255.9L1152 239.1L1152 222.3L1152 205.5L1152 188.7L1152 171.9L1152 155.1L1152 138.3L1152 121.5L1152 105.4L1157.7 105.4L1159.1 104.6L1195.7 92L1233.8 98.9L1245 104.6L1233.8 116.8L1202.1 121.5L1233.8 132L1243.3 138.3L1271.8 146.7L1296.2 155.1L1309.8 163.5L1328.8 171.9L1347.9 180.3L1385.9 185.9L1404.9 171.9L1423.9 161.4L1428.7 155.1L1443.6 138.3L1455.6 121.5L1462 108.8L1465.1 104.6L1493.7 87.8ZM1681.5 255.9L1690.2 241.9L1695.9 241.9L1695.9 255.9L1695.9 261.3L1690.2 261.3L1681.5 261.3Z" fill="#50ffaf"/>
<path d="M1510.5 82.4L1538 82.4L1576.1 82.4L1614.1 82.4L1652.1 82.4L1690.2 82.4L1695.9 82.4L1695.9 87.8L1695.9 104.6L1695.9 121.5L1695.9 138.3L1695.9 155.1L1695.9 171.9L1695.9 188.7L1695.9 205.5L1695.9 218.1L1690.2 218.1L1652.1 209.9L1614.1 211.1L1576.1 217.3L1562.2 222.3L1538 233L1507.9 239.1L1500 244.4L1462 249.6L1450.1 239.1L1423.9 227.6L1418 222.3L1393 205.5L1399 188.7L1419.2 171.9L1423.9 169.3L1434.6 155.1L1448.5 138.3L1462 122.6L1463.6 121.4L1477 104.6L1500 92.4L1510.5 87.8ZM1164.2 104.6L1195.7 93.8L1233.8 100.5L1241.8 104.6L1233.8 113.3L1195.7 119.7L1190.5 121.5L1195.7 124.5L1231.6 138.3L1233.8 139.2L1271.8 150.2L1286.1 155.1L1309.8 169.8L1314.6 171.9L1347.9 186.6L1359.8 188.7L1384 205.5L1374.2 222.3L1372.4 239.1L1374.6 255.9L1374.6 261.3L1347.9 261.3L1309.8 261.3L1271.8 261.3L1233.8 261.3L1195.7 261.3L1157.7 261.3L1152 261.3L1152 255.9L1152 239.1L1152 222.3L1152 205.5L1152 188.7L1152 171.9L1152 155.1L1152 138.3L1152 121.5L1152 108.3L1157.7 108.3ZM1688 255.9L1690.2 252.4L1695.9 252.4L1695.9 255.9L1695.9 261.3L1690.2 261.3L1688 261.3Z" fill="#60ff9f"/>
<path d="M1524.7 82.4L1538 82.4L1576.1 82.4L1614.1 82.4L1652.1 82.4L1690.2 82.4L1695.9 82.4L1695.9 87.8L1695.9 104.6L1695.9 121.5L1695.9 138.3L1695.9 155.1L1695.9 171.9L1695.9 188.7L1695.9 205.5L1695.9 214.8L1690.2 214.8L1652.1 206.8L1614.1 208.2L1576.1 213.4L1551.2 222.3L1538 228.1L1500 235.9L1462 234.5L1434.5 222.3L1425.3 205.5L1423.9 201.3L1416.8 188.7L1423.9 182.4L1427.6 171.9L1440.6 155.1L1453.4 138.3L1462 128.3L1471.5 121.5L1488.9 104.6L1500 98.8L1524.7 87.8ZM1169.2 104.6L1195.7 95.5L1233.8 102.2L1238.5 104.6L1233.8 109.8L1195.7 117.2L1183.4 121.5L1195.7 128.7L1220.6 138.3L1233.8 143.7L1271.8 153.7L1275.9 155.1L1305.1 171.9L1309.8 175.9L1338.9 188.7L1347.9 191.9L1374.5 205.5L1367.7 222.3L1364.9 239.1L1365.7 255.9L1365.7 261.3L1347.9 261.3L1309.8 261.3L1271.8 261.3L1233.8 261.3L1195.7 261.3L1157.7 261.3L1152 261.3L1152 255.9L1152 239.1L1152 222.3L1152 205.5L1152 188.7L1152 171.9L1152 155.1L1152 138.3L1152 121.5L1152 111.1L1157.7 111.1Z" fill="#70ff8f"/>
<path d="M1538.3 82.4L1576.1 82.4L1614.1 82.4L1652.1 82.4L1690.2 82.4L1695.9 82.4L1695.9 87.8L1695.9 104.6L1695.9 121.5L1695.9 138.3L1695.9 155.1L1695.9 171.9L1695.9 188.7L1695.9 205.5L1695.9 211.5L1690.2 211.5L1661.6 205.5L1652.1 204.5L1614.1 205.4L1611.7 205.5L1576.1 209.5L1540.2 222.3L1538 223.3L1500 231.1L1462 227.5L1450.3 222.3L1435.5 205.5L1428.7 188.7L1433.1 171.9L1446.5 155.1L1458.4 138.3L1462 134.1L1479.4 121.5L1500 105.1L1500.5 104.6L1538 88L1538.3 87.8ZM1174.3 104.6L1195.7 97.3L1233.8 103.9L1235.3 104.6L1233.8 106.3L1195.7 114.8L1176.2 121.5L1195.7 132.9L1209.6 138.3L1233.8 148.2L1261.1 155.1L1271.8 157.4L1297.9 171.9L1309.8 181.8L1325.4 188.7L1347.9 196.8L1365 205.5L1361.3 222.3L1357.4 239.1L1356.8 255.9L1356.8 261.3L1347.9 261.3L1309.8 261.3L1271.8 261.3L1233.8 261.3L1195.7 261.3L1157.7 261.3L1152 261.3L1152 255.9L1152 239.1L1152 222.3L1152 205.5L1152 188.7L1152 171.9L1152 155.1L1152 138.3L1152 121.5L1152 114L1157.7 114Z" fill="#80ff80"/>
<path d="M1542.8 82.4L1576.1 82.4L1614.1 82.4L1652.1 82.4L1690.2 82.4L1695.9 82.4L1695.9 87.8L1695.9 104.6L1695.9 121.5L1695.9 138.3L1695.9 155.1L1695.9 171.9L1695.9 188.7L1695.9 205.5L1695.9 208.2L1690.2 208.2L1677.5 205.5L1652.1 202.9L1614.1 203.6L1576.1 205.5L1576.1 205.5L1538 219.4L1519 222.3L1500 226.2L1471.5 222.3L1462 219.9L1445.7 205.5L1436.6 188.7L1438.6 171.9L1452.5 155.1L1462 140.7L1463.4 138.3L1487.3 121.5L1500 111.4L1507.6 104.6L1538 91.2L1542.8 87.8ZM1179.4 104.6L1195.7 99L1228.3 104.6L1195.7 112.4ZM1152 121.5L1152 116.9L1157.7 116.9L1169.1 121.5L1195.7 137.1L1198.7 138.3L1233.8 152.7L1243.3 155.1L1271.8 161.4L1290.8 171.9L1309.8 187.7L1312 188.7L1347.9 201.6L1355.5 205.5L1354.8 222.3L1349.9 239.1L1347.9 255.9L1347.9 255.9L1347.9 261.3L1309.8 261.3L1271.8 261.3L1233.8 261.3L1195.7 261.3L1157.7 261.3L1152 261.3L1152 255.9L1152 239.1L1152 222.3L1152 205.5L1152 188.7L1152 171.9L1152 155.1L1152 138.3Z" fill="#8fff70"/>
<path d="M1547.2 82.4L1576.1 82.4L1614.1 82.4L1652.1 82.4L1690.2 82.4L1695.9 82.4L1695.9 87.8L1695.9 104.6L1695.9 121.5L1695.9 138.3L1695.9 155.1L1695.9 171.9L1695.9 188.7L1695.9 205L1690.2 205L1652.1 201.2L1614.1 201.9L1576.1 203.7L1565.9 205.5L1538 215.6L1500 221.4L1462 210.9L1455.9 205.5L1444.5 188.7L1444 171.9L1458.4 155.1L1462 149.7L1468.7 138.3L1495.2 121.5L1500 117.7L1514.7 104.6L1538 94.3L1547.2 87.8ZM1184.5 104.6L1195.7 100.8L1218.1 104.6L1195.7 110ZM1152 121.5L1152 119.7L1157.7 119.7L1162 121.5L1188.8 138.3L1195.7 141.8L1228.2 155.1L1233.8 157.2L1271.8 165.3L1283.7 171.9L1304.7 188.7L1309.8 192.1L1345.7 205.5L1347.9 218.1L1348.3 222.3L1347.9 223.7L1341.7 239.1L1339.9 255.9L1339.9 261.3L1309.8 261.3L1271.8 261.3L1233.8 261.3L1195.7 261.3L1157.7 261.3L1152 261.3L1152 255.9L1152 239.1L1152 222.3L1152 205.5L1152 188.7L1152 171.9L1152 155.1L1152 138.3Z" fill="#9fff60"/>
<path d="M1551.7 82.4L1576.1 82.4L1614.1 82.4L1652.1 82.4L1690.2 82.4L1695.9 82.4L1695.9 87.8L1695.9 104.6L1695.9 121.5L1695.9 138.3L1695.9 155.1L1695.9 171.9L1695.9 188.7L1695.9 202.7L1690.2 202.7L1652.1 199.5L1614.1 200.1L1576.1 201.8L1555.7 205.5L1538 211.9L1500 216.5L1467.7 205.5L1462 201.3L1452.5 188.7L1449.5 171.9L1462 157.6L1464.2 155.1L1473.9 138.3L1500 122.7L1502.2 121.5L1521.9 104.6L1538 97.5L1551.7 87.8ZM1189.6 104.6L1195.7 102.5L1208 104.6L1195.7 107.5ZM1152 138.3L1152 124L1157.7 124L1179.3 138.3L1195.7 146.7L1216.3 155.1L1233.8 161.7L1271.8 169.3L1276.6 171.9L1298.6 188.7L1309.8 196.2L1334.7 205.5L1339.5 222.3L1333.3 239.1L1332 255.9L1332 261.3L1309.8 261.3L1271.8 261.3L1233.8 261.3L1195.7 261.3L1157.7 261.3L1152 261.3L1152 255.9L1152 239.1L1152 222.3L1152 205.5L1152 188.7L1152 171.9L1152 155.1Z" fill="#afff50"/>
<path d="M1556.2 82.4L1576.1 82.4L1614.1 82.4L1652.1 82.4L1690.2 82.4L1695.9 82.4L1695.9 87.8L1695.9 104.6L1695.9 121.5L1695.9 138.3L1695.9 155.1L1695.9 171.9L1695.9 188.7L1695.9 200.4L1690.2 200.4L1652.1 197.9L1614.1 198.4L1576.1 199.9L1545.5 205.5L1538 208.2L1500 211.7L1481.9 205.5L1462 190.8L1460.4 188.7L1455 171.9L1462 163.9L1469.6 155.1L1479.2 138.3L1500 125.9L1507.7 121.5L1529 104.6L1538 100.6L1556.2 87.8ZM1194.7 104.6L1195.7 104.3L1197.8 104.6L1195.7 105.1ZM1152 138.3L1152 130.3L1157.7 130.3L1169.7 138.3L1195.7 151.5L1204.4 155.1L1233.8 166.2L1263.9 171.9L1271.8 173.4L1292.5 188.7L1309.8 200.3L1323.7 205.5L1330.6 222.3L1324.9 239.1L1324.1 255.9L1324.1 261.3L1309.8 261.3L1271.8 261.3L1233.8 261.3L1195.7 261.3L1157.7 261.3L1152 261.3L1152 255.9L1152 239.1L1152 222.3L1152 205.5L1152 188.7L1152 171.9L1152 155.1Z" fill="#bfff40"/>
<path d="M1560.6 82.4L1576.1 82.4L1614.1 82.4L1652.1 82.4L1690.2 82.4L1695.9 82.4L1695.9 87.8L1695.9 104.6L1695.9 121.5L1695.9 138.3L1695.9 155.1L1695.9 171.9L1695.9 188.7L1695.9 198L1690.2 198L1652.1 196.2L1614.1 196.6L1576.1 198.1L1538 204.9L1519 205.5L1500 206.8L1496.2 205.5L1466 188.7L1462 176.1L1460.5 171.9L1462 170.2L1475.1 155.1L1484.5 138.3L1500 129L1513.2 121.5L1536.1 104.6L1538 103.8L1560.6 87.8ZM1152 138.3L1152 136.6L1157.7 136.6L1160.2 138.3L1191.9 155.1L1195.7 157.2L1233.8 170.7L1240.1 171.9L1271.8 177.9L1286.4 188.7L1309.8 204.4L1312.8 205.5L1321.7 222.3L1316.5 239.1L1316.2 255.9L1316.2 261.3L1309.8 261.3L1271.8 261.3L1233.8 261.3L1195.7 261.3L1157.7 261.3L1152 261.3L1152 255.9L1152 239.1L1152 222.3L1152 205.5L1152 188.7L1152 171.9L1152 155.1Z" fill="#cfff30"/>
<path d="M1565.1 82.4L1576.1 82.4L1614.1 82.4L1652.1 82.4L1690.2 82.4L1695.9 82.4L1695.9 87.8L1695.9 104.6L1695.9 121.5L1695.9 138.3L1695.9 155.1L1695.9 171.9L1695.9 188.7L1695.9 195.7L1690.2 195.7L1652.1 194.6L1614.1 194.9L1576.1 196.2L1538 202.4L1500 203.6L1471.1 188.7L1465.7 171.9L1480.6 155.1L1489.8 138.3L1500 132.2L1518.7 121.5L1538 107.5L1541.3 104.6L1565.1 87.8ZM1152 155.1L1152 144L1157.7 144L1177.7 155.1L1195.7 165.1L1216.3 171.9L1233.8 177.7L1271.8 182.4L1280.3 188.7L1304 205.5L1309.8 217.1L1312.8 222.3L1309.8 232.8L1308.1 239.1L1307.5 255.9L1307.5 261.3L1271.8 261.3L1233.8 261.3L1195.7 261.3L1157.7 261.3L1152 261.3L1152 255.9L1152 239.1L1152 222.3L1152 205.5L1152 188.7L1152 171.9Z" fill="#dfff20"/>
<path d="M1569.5 82.4L1576.1 82.4L1614.1 82.4L1652.1 82.4L1686.8 82.4L1686.8 87.8L1690.2 89.2L1695.9 89.2L1695.9 104.6L1695.9 121.5L1695.9 138.3L1695.9 155.1L1695.9 171.9L1695.9 188.7L1695.9 193.4L1690.2 193.4L1652.1 192.9L1614.1 193.1L1576.1 194.4L1538 200L1500 201L1476.2 188.7L1470.8 171.9L1486.1 155.1L1495.1 138.3L1500 135.3L1524.1 121.5L1538 111.5L1545.8 104.6L1569.5 87.8ZM1152 155.1L1152 151.9L1157.7 151.9L1163.4 155.1L1193.4 171.9L1195.7 172.9L1233.8 185.5L1271.8 186.9L1274.2 188.7L1296.1 205.5L1305.5 222.3L1299.1 239.1L1295.6 255.9L1295.6 261.3L1271.8 261.3L1233.8 261.3L1195.7 261.3L1157.7 261.3L1152 261.3L1152 255.9L1152 239.1L1152 222.3L1152 205.5L1152 188.7L1152 171.9ZM1233.8 218.1L1232.7 222.3L1232.6 239.1L1233.8 243.3L1235.4 239.1L1234.7 222.3Z" fill="#efff10"/>
<path d="M1574 82.4L1576.1 82.4L1614.1 82.4L1652.1 82.4L1681.7 82.4L1681.7 87.8L1690.2 91.3L1695.9 91.3L1695.9 104.6L1695.9 121.5L1695.9 138.3L1695.9 155.1L1695.9 171.9L1695.9 188.7L1695.9 191L1690.2 191L1652.1 191.2L1614.1 191.4L1576.1 192.5L1538 197.6L1500 198.3L1481.3 188.7L1475.9 171.9L1491.6 155.1L1500 139L1500.4 138.3L1529.6 121.5L1538 115.4L1550.2 104.6L1574 87.8ZM1152 171.9L1152 161.4L1157.7 161.4L1175.5 171.9L1195.7 180.8L1219.5 188.7L1227.7 205.5L1224.8 222.3L1223.7 239.1L1226.6 255.9L1226.6 261.3L1195.7 261.3L1157.7 261.3L1152 261.3L1152 255.9L1152 239.1L1152 222.3L1152 205.5L1152 188.7ZM1242.3 205.5L1271.8 192.5L1288.2 205.5L1299 222.3L1290.2 239.1L1283.7 255.9L1283.7 261.3L1271.8 261.3L1248 261.3L1248 255.9L1247.2 239.1L1241.8 222.3Z" fill="#ffff00"/>
<path d="M1582.4 82.4L1614.1 82.4L1652.1 82.4L1676.6 82.4L1676.6 87.8L1690.2 93.4L1695.9 93.4L1695.9 104.6L1695.9 121.5L1695.9 138.3L1695.9 155.1L1695.9 171.9L1695.9 188.7L1690.2 188.7L1690.2 188.7L1652.1 189.6L1614.1 189.6L1576.1 190.7L1538 195.2L1500 195.7L1486.4 188.7L1481 171.9L1497.1 155.1L1500 149.5L1506.9 138.3L1535.1 121.5L1538 119.3L1554.7 104.6L1576.1 89.5L1582.4 87.8ZM1152 188.7L1152 171.9L1157.7 171.9L1195.7 188.7L1195.7 188.7L1217.5 205.5L1216.9 222.3L1214.8 239.1L1214.8 255.9L1214.8 261.3L1195.7 261.3L1157.7 261.3L1152 261.3L1152 255.9L1152 239.1L1152 222.3L1152 205.5ZM1256.6 205.5L1271.8 198.8L1280.3 205.5L1292.5 222.3L1281.3 239.1L1271.8 255.9L1259.1 239.1L1249 222.3Z" fill="#ffef00"/>
<path d="M1594.3 82.4L1614.1 82.4L1652.1 82.4L1671.5 82.4L1671.5 87.8L1690.2 95.5L1695.9 95.5L1695.9 104.6L1695.9 121.5L1695.9 138.3L1695.9 155.1L1695.9 171.9L1695.9 186.1L1690.2 186.1L1652.1 187.6L1614.1 187.5L1580.8 188.7L1576.1 188.8L1538 192.7L1500 193.1L1491.5 188.7L1486.1 171.9L1500 157.5L1503 155.1L1513.4 138.3L1538 123.3L1540.1 121.5L1559.1 104.6L1576.1 92.7L1594.3 87.8ZM1152 188.7L1152 179.8L1157.7 179.8L1177.9 188.7L1195.7 196.6L1207.3 205.5L1208.9 222.3L1205.8 239.1L1202.9 255.9L1202.9 261.3L1195.7 261.3L1157.7 261.3L1152 261.3L1152 255.9L1152 239.1L1152 222.3L1152 205.5ZM1270.8 205.5L1271.8 205.1L1272.3 205.5L1286.1 222.3L1272.4 239.1L1271.8 240.2L1271 239.1L1256.1 222.3Z" fill="#ffdf00"/>
<path d="M1606.2 82.4L1614.1 82.4L1652.1 82.4L1666.4 82.4L1666.4 87.8L1690.2 97.6L1695.9 97.6L1695.9 104.6L1695.9 121.5L1695.9 138.3L1695.9 155.1L1695.9 171.9L1695.9 183.4L1690.2 183.4L1652.1 185.4L1614.1 184.8L1576.1 186L1553.9 188.7L1538 190.3L1500 190.5L1496.6 188.7L1491.2 171.9L1500 162.8L1509.5 155.1L1519.9 138.3L1538 127.2L1544.6 121.5L1563.6 104.6L1576.1 95.8L1606.2 87.8ZM1152 188.7L1152 187.6L1157.7 187.6L1160.1 188.7L1195.7 204.5L1197.1 205.5L1201 222.3L1196.9 239.1L1195.7 243.3L1181.5 255.9L1181.5 261.3L1157.7 261.3L1152 261.3L1152 255.9L1152 239.1L1152 222.3L1152 205.5ZM1263.2 222.3L1271.8 212.9L1279.6 222.3L1271.8 231.8Z" fill="#ffcf00"/>
<path d="M1620 82.4L1652.1 82.4L1661.3 82.4L1661.3 87.8L1690.2 99.7L1695.9 99.7L1695.9 104.6L1695.9 121.5L1695.9 138.3L1695.9 155.1L1695.9 171.9L1695.9 180.8L1690.2 180.8L1652.1 183.1L1614.1 182.2L1576.1 183.2L1538 187.6L1500 183.4L1496.3 171.9L1500 168L1516 155.1L1526.4 138.3L1538 131.2L1549 121.5L1568 104.6L1576.1 99L1614.1 88.6L1620 87.8ZM1152 205.5L1152 194.2L1157.7 194.2L1183.4 205.5L1191 222.3L1175.1 239.1L1157.7 250.7L1152 250.7L1152 239.1L1152 222.3ZM1270.4 222.3L1271.8 220.7L1273.1 222.3L1271.8 223.9Z" fill="#ffbf00"/>
<path d="M1637.9 82.4L1652.1 82.4L1656.2 82.4L1656.2 87.8L1690.2 101.8L1695.9 101.8L1695.9 104.6L1695.9 121.5L1695.9 138.3L1695.9 155.1L1695.9 171.9L1695.9 178.2L1690.2 178.2L1652.1 180.9L1614.1 179.6L1576.1 180.3L1538 184.5L1502.4 171.9L1522.5 155.1L1532.8 138.3L1538 135.1L1553.5 121.5L1572.5 104.6L1576.1 102.1L1614.1 90.8L1637.9 87.8ZM1152 205.5L1152 200.5L1157.7 200.5L1169.1 205.5L1176.7 222.3L1157.7 236.3L1152 236.3L1152 222.3Z" fill="#ffaf00"/>
<path d="M1577.5 104.6L1614.1 93.1L1652.1 88.3L1690.2 103.9L1695.9 103.9L1695.9 104.6L1695.9 121.5L1695.9 138.3L1695.9 155.1L1695.9 171.9L1695.9 175.6L1690.2 175.6L1652.1 178.6L1614.1 177L1576.1 177.4L1538 181.3L1511.3 171.9L1529 155.1L1538 140.4L1539.6 138.3L1557.9 121.5L1576.1 105.4ZM1152 222.3L1152 211.8L1157.7 211.8L1162.5 222.3L1157.7 225.8L1152 225.8Z" fill="#ff9f00"/>
<path d="M1584.6 104.6L1614.1 95.3L1652.1 90.5L1686.5 104.6L1690.2 106.3L1695.9 106.3L1695.9 121.5L1695.9 138.3L1695.9 155.1L1695.9 171.9L1695.9 172.9L1690.2 172.9L1652.1 176.4L1614.1 174.3L1576.1 174.6L1538 178.2L1520.2 171.9L1535.4 155.1L1538 150.9L1547.5 138.3L1562.4 121.5L1576.1 109.4Z" fill="#ff8f00"/>
<path d="M1591.8 104.6L1614.1 97.6L1652.1 92.8L1681 104.6L1690.2 108.7L1695.9 108.7L1695.9 121.5L1695.9 138.3L1695.9 155.1L1695.9 170.4L1690.2 170.4L1675.9 171.9L1652.1 174.1L1616.5 171.9L1614.1 171.7L1576.1 171.4L1573.7 171.9L1538 175L1529.1 171.9L1538 161.4L1546.6 155.1L1555.5 138.3L1566.9 121.5L1576.1 113.3Z" fill="#ff8000"/>
<path d="M1598.9 104.6L1614.1 99.8L1652.1 95L1675.5 104.6L1690.2 111.1L1695.9 111.1L1695.9 121.5L1695.9 138.3L1695.9 155.1L1695.9 168L1690.2 168L1652.1 171.9L1614.1 168.5L1576.1 163.5L1560.9 155.1L1563.4 138.3L1571.3 121.5L1576.1 117.2Z" fill="#ff7000"/>
<path d="M1606 104.6L1614.1 102.1L1652.1 97.3L1670.1 104.6L1690.2 113.5L1695.9 113.5L1695.9 121.5L1695.9 138.3L1695.9 155.1L1695.9 165.6L1690.2 165.6L1652.1 169.9L1614.1 165.4L1576.1 155.6L1575.1 155.1L1571.3 138.3L1575.8 121.5L1576.1 121.2Z" fill="#ff6000"/>
<path d="M1613.1 104.6L1614.1 104.3L1652.1 99.5L1664.6 104.6L1690.2 116L1695.9 116L1695.9 121.5L1695.9 138.3L1695.9 155.1L1695.9 163.2L1690.2 163.2L1652.1 167.9L1614.1 162.2L1587.2 155.1L1579.2 138.3L1582.7 121.5Z" fill="#ff5000"/>
<path d="M1629.6 104.6L1652.1 101.8L1659.1 104.6L1690.2 118.4L1695.9 118.4L1695.9 121.5L1695.9 138.3L1695.9 155.1L1695.9 160.7L1690.2 160.7L1652.1 166L1614.1 159.1L1599 155.1L1587.2 138.3L1589.9 121.5L1614.1 108.1Z" fill="#ff4000"/>
<path d="M1647.4 104.6L1652.1 104L1653.6 104.6L1690.2 120.8L1695.9 120.8L1695.9 121.5L1695.9 138.3L1695.9 155.1L1695.9 158.3L1690.2 158.3L1652.1 164L1614.1 155.9L1610.9 155.1L1595.1 138.3L1597 121.5L1614.1 112Z" fill="#ff3000"/>
<path d="M1604.1 121.5L1614.1 115.9L1652.1 106.7L1685.4 121.5L1690.2 127.2L1695.9 127.2L1695.9 138.3L1695.9 155.1L1695.9 155.9L1690.2 155.9L1652.1 162L1620.6 155.1L1614.1 149.3L1603 138.3Z" fill="#ff2000"/>
<path d="M1611.2 121.5L1614.1 119.9L1652.1 109.6L1678.9 121.5L1690.2 135.1L1695.9 135.1L1695.9 138.3L1695.9 144.6L1690.2 144.6L1682.2 155.1L1652.1 160.1L1629.6 155.1L1614.1 141.4L1610.9 138.3Z" fill="#ff1000"/>
<path d="M1620.2 121.5L1652.1 112.5L1672.4 121.5L1686.3 138.3L1670.4 155.1L1652.1 158.1L1638.5 155.1L1618 138.3Z" fill="#ff0000"/>
<path d="M1630.4 121.5L1652.1 115.3L1666 121.5L1679.8 138.3L1658.5 155.1L1652.1 156.1L1647.4 155.1L1624.5 138.3Z" fill="#ef0000"/>
<path d="M1640.6 121.5L1652.1 118.2L1659.5 121.5L1673.3 138.3L1652.1 153L1631 138.3Z" fill="#df0000"/>
<path d="M1650.8 121.5L1652.1 121.1L1653 121.5L1666.8 138.3L1652.1 148.5L1637.4 138.3Z" fill="#cf0000"/>
<path d="M1643.9 138.3L1652.1 128.3L1660.3 138.3L1652.1 144Z" fill="#bf0000"/>
<path d="M1650.4 138.3L1652.1 136.2L1653.9 138.3L1652.1 139.5Z" fill="#af0000"/>
<polygon points="1233.8,104.6 1271.8,87.5 1271.8,105" fill="#00cfff"/>
<polygon points="1156.9,121.5 1195.7,104.3 1195.7,121.5" fill="#50ffaf"/>
</g>
<polyline points="1195.6,113.2 1233.8,105.7 1236.5,104.8" class="zl"/>
<polyline points="1169,121.5 1195.6,138.3 1233.8,153.1 1242.9,154.9 1271.8,161.7 1290.7,172.4 1309.8,188.1 1347.8,199.1 1358.9,205.4 1354.4,225.9 1349.8,238.9 1348.2,255.7" class="zl"/>
<polyline points="1553.9,88.2 1537.9,98.5 1515.2,104.1 1499.9,111 1483.3,122.3 1464,138.3 1449.2,154.9 1437.9,171.8 1434,188.6 1444.7,205.4 1462,220.2 1483.3,223.1 1499.9,226.4 1508.4,223.1 1537.9,218 1575.9,205.4 1614.1,200.9 1652.1,198.6 1672.1,203.2 1690.1,209.3" class="zl"/>
<polyline points="1686.7,255.3 1689.4,254.1" class="zl"/>
<path d="M1081.6 323.2v-6.5M1081.6 54.2v6.5M1157.7 323.2v-6.5M1157.7 54.2v6.5M1233.8 323.2v-6.5M1233.8 54.2v6.5M1309.8 323.2v-6.5M1309.8 54.2v6.5M1385.9 323.2v-6.5M1385.9 54.2v6.5M1462 323.2v-6.5M1462 54.2v6.5M1538 323.2v-6.5M1538 54.2v6.5M1614.1 323.2v-6.5M1614.1 54.2v6.5M1690.2 323.2v-6.5M1690.2 54.2v6.5M1043.6 323.2h7M1728.2 323.2h-7M1043.6 255.9h7M1728.2 255.9h-7M1043.6 188.7h7M1728.2 188.7h-7M1043.6 121.5h7M1728.2 121.5h-7M1043.6 54.2h7M1728.2 54.2h-7" class="tk"/>
<rect x="1043.6" y="54.2" width="684.6" height="269" class="ax"/>
<text x="1052.2" y="352.8" class="t25">−80</text>
<text x="1128.3" y="352.8" class="t25">−60</text>
<text x="1204.4" y="352.8" class="t25">−40</text>
<text x="1280.4" y="352.8" class="t25">−20</text>
<text x="1378.8" y="352.8" class="t25">0</text>
<text x="1447.7" y="352.8" class="t25">20</text>
<text x="1523.8" y="352.8" class="t25">40</text>
<text x="1599.8" y="352.8" class="t25">60</text>
<text x="1675.9" y="352.8" class="t25">80</text>
<text x="1039" y="332.8" class="t25 e">70</text>
<text x="1039" y="265.6" class="t25 e">80</text>
<text x="1039" y="198.3" class="t25 e">90</text>
<text x="1039" y="131.1" class="t25 e">100</text>
<text x="1039" y="63.8" class="t25 e">110</text>
<text transform="translate(981.9 187.8) rotate(-90)" class="t25 m yl">altitude / km</text>
<text y="34" x="1212.3 1228.4 1235.6 1253.9 1258.9 1268 1283.7 1297.9 1312.2 1326.2 1330.2 1339.1 1360.5 1374.3 1388.5 1398.6 1409.6 1417.5 1431.1 1449.7 1463.9 1480.2 1486.2 1496.7 1505 1521.9 1538.9 1554" font-size="18">TIDI Zonal Mean (JULY) (ASF)</text>
<text y="381.9" x="1320.6 1326.9 1343.2 1351.4 1358.1 1365.7 1381.8 1398.7 1408.8 1422.7 1427.7 1439.5" font-size="18">latitude / °</text>
<text x="1049.4" y="41" font-size="27" letter-spacing="1.1">(b)</text>
<rect x="1756" y="54.2" width="37.1" height="269" fill="#00008f"/>
<rect x="1756" y="54.2" width="37.1" height="264.8" fill="#00009f"/>
<rect x="1756" y="54.2" width="37.1" height="260.6" fill="#0000af"/>
<rect x="1756" y="54.2" width="37.1" height="256.4" fill="#0000bf"/>
<rect x="1756" y="54.2" width="37.1" height="252.2" fill="#0000cf"/>
<rect x="1756" y="54.2" width="37.1" height="248" fill="#0000df"/>
<rect x="1756" y="54.2" width="37.1" height="243.8" fill="#0000ef"/>
<rect x="1756" y="54.2" width="37.1" height="239.6" fill="#0000ff"/>
<rect x="1756" y="54.2" width="37.1" height="235.4" fill="#0010ff"/>
<rect x="1756" y="54.2" width="37.1" height="231.2" fill="#0020ff"/>
<rect x="1756" y="54.2" width="37.1" height="227" fill="#0030ff"/>
<rect x="1756" y="54.2" width="37.1" height="222.8" fill="#0040ff"/>
<rect x="1756" y="54.2" width="37.1" height="218.6" fill="#0050ff"/>
<rect x="1756" y="54.2" width="37.1" height="214.4" fill="#0060ff"/>
<rect x="1756" y="54.2" width="37.1" height="210.2" fill="#0070ff"/>
<rect x="1756" y="54.2" width="37.1" height="206" fill="#0080ff"/>
<rect x="1756" y="54.2" width="37.1" height="201.8" fill="#008fff"/>
<rect x="1756" y="54.2" width="37.1" height="197.5" fill="#009fff"/>
<rect x="1756" y="54.2" width="37.1" height="193.3" fill="#00afff"/>
<rect x="1756" y="54.2" width="37.1" height="189.1" fill="#00bfff"/>
<rect x="1756" y="54.2" width="37.1" height="184.9" fill="#00cfff"/>
<rect x="1756" y="54.2" width="37.1" height="180.7" fill="#00dfff"/>
<rect x="1756" y="54.2" width="37.1" height="176.5" fill="#00efff"/>
<rect x="1756" y="54.2" width="37.1" height="172.3" fill="#00ffff"/>
<rect x="1756" y="54.2" width="37.1" height="168.1" fill="#10ffef"/>
<rect x="1756" y="54.2" width="37.1" height="163.9" fill="#20ffdf"/>
<rect x="1756" y="54.2" width="37.1" height="159.7" fill="#30ffcf"/>
<rect x="1756" y="54.2" width="37.1" height="155.5" fill="#40ffbf"/>
<rect x="1756" y="54.2" width="37.1" height="151.3" fill="#50ffaf"/>
<rect x="1756" y="54.2" width="37.1" height="147.1" fill="#60ff9f"/>
<rect x="1756" y="54.2" width="37.1" height="142.9" fill="#70ff8f"/>
<rect x="1756" y="54.2" width="37.1" height="138.7" fill="#80ff80"/>
<rect x="1756" y="54.2" width="37.1" height="134.5" fill="#8fff70"/>
<rect x="1756" y="54.2" width="37.1" height="130.3" fill="#9fff60"/>
<rect x="1756" y="54.2" width="37.1" height="126.1" fill="#afff50"/>
<rect x="1756" y="54.2" width="37.1" height="121.9" fill="#bfff40"/>
<rect x="1756" y="54.2" width="37.1" height="117.7" fill="#cfff30"/>
<rect x="1756" y="54.2" width="37.1" height="113.5" fill="#dfff20"/>
<rect x="1756" y="54.2" width="37.1" height="109.3" fill="#efff10"/>
<rect x="1756" y="54.2" width="37.1" height="105.1" fill="#ffff00"/>
<rect x="1756" y="54.2" width="37.1" height="100.9" fill="#ffef00"/>
<rect x="1756" y="54.2" width="37.1" height="96.7" fill="#ffdf00"/>
<rect x="1756" y="54.2" width="37.1" height="92.5" fill="#ffcf00"/>
<rect x="1756" y="54.2" width="37.1" height="88.3" fill="#ffbf00"/>
<rect x="1756" y="54.2" width="37.1" height="84.1" fill="#ffaf00"/>
<rect x="1756" y="54.2" width="37.1" height="79.9" fill="#ff9f00"/>
<rect x="1756" y="54.2" width="37.1" height="75.7" fill="#ff8f00"/>
<rect x="1756" y="54.2" width="37.1" height="71.5" fill="#ff8000"/>
<rect x="1756" y="54.2" width="37.1" height="67.2" fill="#ff7000"/>
<rect x="1756" y="54.2" width="37.1" height="63" fill="#ff6000"/>
<rect x="1756" y="54.2" width="37.1" height="58.8" fill="#ff5000"/>
<rect x="1756" y="54.2" width="37.1" height="54.6" fill="#ff4000"/>
<rect x="1756" y="54.2" width="37.1" height="50.4" fill="#ff3000"/>
<rect x="1756" y="54.2" width="37.1" height="46.2" fill="#ff2000"/>
<rect x="1756" y="54.2" width="37.1" height="42" fill="#ff1000"/>
<rect x="1756" y="54.2" width="37.1" height="37.8" fill="#ff0000"/>
<rect x="1756" y="54.2" width="37.1" height="33.6" fill="#ef0000"/>
<rect x="1756" y="54.2" width="37.1" height="29.4" fill="#df0000"/>
<rect x="1756" y="54.2" width="37.1" height="25.2" fill="#cf0000"/>
<rect x="1756" y="54.2" width="37.1" height="21" fill="#bf0000"/>
<rect x="1756" y="54.2" width="37.1" height="16.8" fill="#af0000"/>
<rect x="1756" y="54.2" width="37.1" height="12.6" fill="#9f0000"/>
<rect x="1756" y="54.2" width="37.1" height="8.4" fill="#8f0000"/>
<rect x="1756" y="54.2" width="37.1" height="4.2" fill="#800000"/>
<path d="M1756 278.4h2.5M1793.1 278.4h-2.5M1756 233.5h2.5M1793.1 233.5h-2.5M1756 188.7h2.5M1793.1 188.7h-2.5M1756 143.9h2.5M1793.1 143.9h-2.5M1756 99h2.5M1793.1 99h-2.5" class="tk"/>
<rect x="1756" y="54.2" width="37.1" height="269" class="ax"/>
<text x="1798.1" y="63.6" class="t25">60</text>
<text x="1798.1" y="108.6" class="t25">40</text>
<text x="1798.1" y="153.6" class="t25">20</text>
<text x="1798.1" y="198.6" class="t25">0</text>
<text x="1798.1" y="243.6" class="t25">−20</text>
<text x="1798.1" y="288.6" class="t25">−40</text>
<text x="1798.1" y="333.6" class="t25">−60</text>
<text transform="translate(1870.5 188.4) rotate(-90)" dx="0 0 0 0 0 0 2 -2" class="t25 m cl">zonal / m/s</text>
</g>
<g>
<clipPath id="clipc"><polygon points="142.6,484.8 599,484.8 675.1,518.5 675.1,636.1 637.1,653 142.6,653"/></clipPath>
<g clip-path="url(#clipc)">
<rect x="135.9" y="477.1" width="545.9" height="183.6" fill="#00dfff"/>
<path d="M136.9 479.4L142.6 479.4L180.7 479.4L218.3 479.4L218.3 484.8L218.7 485.9L223.5 484.8L223.5 479.4L256.7 479.4L294.8 479.4L332.8 479.4L364 479.4L364 484.8L370.8 495.3L408.9 486.2L409.5 484.8L409.5 479.4L446.9 479.4L484.9 479.4L523 479.4L561 479.4L599 479.4L637.1 479.4L675.1 479.4L680.8 479.4L680.8 484.8L680.8 501.6L680.8 518.5L680.8 535.3L680.8 552.1L680.8 568.9L680.8 585.7L680.8 602.5L680.8 619.3L680.8 636.1L680.8 653L680.8 658.3L675.1 658.3L637.1 658.3L599 658.3L561 658.3L523 658.3L484.9 658.3L446.9 658.3L408.9 658.3L370.8 658.3L332.8 658.3L294.8 658.3L256.7 658.3L218.7 658.3L180.7 658.3L142.6 658.3L136.9 658.3L136.9 653L136.9 636.1L136.9 619.3L136.9 602.5L136.9 585.7L136.9 568.9L136.9 552.1L136.9 535.3L136.9 518.5L136.9 501.6L136.9 484.8Z" fill="#00efff"/>
<path d="M136.9 479.4L142.6 479.4L180.7 479.4L215.5 479.4L215.5 484.8L218.7 493.8L256.7 485.9L257.7 484.8L257.7 479.4L294.8 479.4L332.8 479.4L353.9 479.4L353.9 484.8L363.7 501.6L370.8 503L392.2 501.6L408.9 496.7L413.9 484.8L413.9 479.4L446.9 479.4L484.9 479.4L523 479.4L561 479.4L599 479.4L637.1 479.4L675.1 479.4L680.8 479.4L680.8 484.8L680.8 501.6L680.8 518.5L680.8 535.3L680.8 552.1L680.8 568.9L680.8 585.7L680.8 602.5L680.8 619.3L680.8 636.1L680.8 653L680.8 658.3L675.1 658.3L637.1 658.3L599 658.3L561 658.3L523 658.3L484.9 658.3L446.9 658.3L408.9 658.3L370.8 658.3L332.8 658.3L294.8 658.3L256.7 658.3L218.7 658.3L180.7 658.3L142.6 658.3L136.9 658.3L136.9 653L136.9 636.1L136.9 619.3L136.9 602.5L136.9 585.7L136.9 568.9L136.9 552.1L136.9 535.3L136.9 518.5L136.9 501.6L136.9 484.8Z" fill="#00ffff"/>
<path d="M136.9 479.4L142.6 479.4L180.7 479.4L212.6 479.4L212.6 484.8L218.7 501.6L218.7 501.6L256.7 501.6L256.7 501.6L271.9 484.8L271.9 479.4L294.8 479.4L332.8 479.4L343.7 479.4L343.7 484.8L351.8 501.6L370.8 505.2L408.9 503.2L412 501.6L418.4 484.8L418.4 479.4L446.9 479.4L484.9 479.4L523 479.4L561 479.4L599 479.4L637.1 479.4L675.1 479.4L680.8 479.4L680.8 484.8L680.8 501.6L680.8 518.5L680.8 535.3L680.8 552.1L680.8 560.5L675.1 560.5L665.6 568.9L675.1 577.3L680.8 577.3L680.8 585.7L680.8 602.5L680.8 619.3L680.8 636.1L680.8 653L680.8 658.3L675.1 658.3L637.1 658.3L599 658.3L561 658.3L523 658.3L484.9 658.3L446.9 658.3L408.9 658.3L370.8 658.3L332.8 658.3L294.8 658.3L256.7 658.3L218.7 658.3L180.7 658.3L142.6 658.3L136.9 658.3L136.9 653L136.9 636.1L136.9 619.3L136.9 602.5L136.9 585.7L136.9 568.9L136.9 552.1L136.9 535.3L136.9 518.5L136.9 501.6L136.9 484.8Z" fill="#10ffef"/>
<path d="M136.9 479.4L142.6 479.4L180.7 479.4L209.8 479.4L209.8 484.8L213.8 501.6L218.7 507.9L256.7 509.5L280.5 501.6L286.2 484.8L286.2 479.4L294.8 479.4L332.8 479.4L333.5 479.4L333.5 484.8L339.9 501.6L370.8 507.5L408.9 506L418 501.6L422.8 484.8L422.8 479.4L446.9 479.4L484.9 479.4L523 479.4L561 479.4L599 479.4L637.1 479.4L675.1 479.4L680.8 479.4L680.8 484.8L680.8 501.6L680.8 518.5L680.8 535.3L680.8 550.2L675.1 550.2L666.8 552.1L647.8 568.9L666.8 585.7L675.1 588.2L680.8 588.2L680.8 602.5L680.8 619.3L680.8 636.1L680.8 653L680.8 658.3L675.1 658.3L637.1 658.3L599 658.3L561 658.3L523 658.3L484.9 658.3L446.9 658.3L408.9 658.3L370.8 658.3L332.8 658.3L294.8 658.3L256.7 658.3L218.7 658.3L180.7 658.3L142.6 658.3L136.9 658.3L136.9 653L136.9 636.1L136.9 619.3L136.9 602.5L136.9 585.7L136.9 568.9L136.9 552.1L136.9 535.3L136.9 518.5L136.9 501.6L136.9 484.8Z" fill="#20ffdf"/>
<path d="M136.9 479.4L142.6 479.4L180.7 479.4L206.9 479.4L206.9 484.8L208.9 501.6L218.7 514.2L256.7 517.4L294.8 504.2L332.8 502.7L370.8 509.7L408.9 508.9L423.9 501.6L427.3 484.8L427.3 479.4L446.9 479.4L484.9 479.4L523 479.4L561 479.4L599 479.4L637.1 479.4L675.1 479.4L680.8 479.4L680.8 484.8L680.8 501.6L680.8 518.5L680.8 535.3L680.8 546.3L675.1 546.3L649 552.1L637.1 562.6L632.3 568.9L637.1 575.2L649 585.7L675.1 593.4L680.8 593.4L680.8 602.5L680.8 619.3L680.8 636.1L680.8 653L680.8 658.3L675.1 658.3L637.1 658.3L599 658.3L561 658.3L523 658.3L484.9 658.3L446.9 658.3L408.9 658.3L370.8 658.3L332.8 658.3L294.8 658.3L256.7 658.3L218.7 658.3L180.7 658.3L142.6 658.3L136.9 658.3L136.9 653L136.9 636.1L136.9 619.3L136.9 602.5L136.9 585.7L136.9 568.9L136.9 552.1L136.9 535.3L136.9 518.5L136.9 501.6L136.9 484.8Z" fill="#30ffcf"/>
<path d="M136.9 479.4L142.6 479.4L180.7 479.4L204.1 479.4L204.1 484.8L203.9 501.6L214.7 518.4L218.7 521.1L256.7 525.3L272.2 518.5L294.8 510.5L332.8 505.4L370.8 512L408.9 511.8L429.9 501.6L431.7 484.8L431.7 479.4L446.9 479.4L484.9 479.4L523 479.4L561 479.4L599 479.4L637.1 479.4L675.1 479.4L680.8 479.4L680.8 484.8L680.8 501.6L680.8 518.5L680.8 535.3L680.8 542.4L675.1 542.4L637.1 550.6L632.3 552.1L620.4 568.9L631.1 585.7L637.1 587.8L675.1 598.7L680.8 598.7L680.8 602.5L680.8 619.3L680.8 636.1L680.8 653L680.8 658.3L675.1 658.3L637.1 658.3L599 658.3L561 658.3L523 658.3L484.9 658.3L446.9 658.3L408.9 658.3L370.8 658.3L332.8 658.3L294.8 658.3L256.7 658.3L218.7 658.3L180.7 658.3L142.6 658.3L136.9 658.3L136.9 653L136.9 636.1L136.9 619.3L136.9 602.5L136.9 585.7L136.9 568.9L136.9 552.1L136.9 535.3L136.9 518.5L136.9 501.6L136.9 484.8ZM523 566.3L507.5 568.9L523 572.5L538.4 568.9Z" fill="#40ffbf"/>
<path d="M136.9 479.4L142.6 479.4L180.7 479.4L201.2 479.4L201.2 484.8L199 501.6L202.9 518.5L218.7 529L256.7 533.2L290 518.5L294.8 516.8L332.8 508.1L370.8 514.2L408.9 514.6L435.8 501.6L436.2 484.8L436.2 479.4L446.9 479.4L484.9 479.4L523 479.4L561 479.4L599 479.4L637.1 479.4L675.1 479.4L680.8 479.4L680.8 484.8L680.8 501.6L680.8 518.5L680.8 535.3L680.8 538.4L675.1 538.4L637.1 546.1L618.1 552.1L608.5 568.9L613.3 585.7L637.1 594.1L668.8 602.5L675.1 604.6L680.8 604.6L680.8 619.3L680.8 636.1L680.8 653L680.8 658.3L675.1 658.3L637.1 658.3L599 658.3L561 658.3L523 658.3L484.9 658.3L446.9 658.3L408.9 658.3L370.8 658.3L332.8 658.3L294.8 658.3L256.7 658.3L218.7 658.3L180.7 658.3L142.6 658.3L136.9 658.3L136.9 653L136.9 636.1L136.9 619.3L136.9 602.5L136.9 585.7L136.9 568.9L136.9 552.1L136.9 535.3L136.9 518.5L136.9 501.6L136.9 484.8ZM523 563.4L489.7 568.9L523 576.7L556.2 568.9Z" fill="#50ffaf"/>
<path d="M136.9 479.4L142.6 479.4L180.7 479.4L198.4 479.4L198.4 484.8L194.1 501.6L191 518.5L213.9 535.3L218.7 536.5L256.7 539.9L264.8 535.3L294.8 522L302.6 518.5L332.8 510.8L370.8 516.5L408.9 517.5L441.7 501.6L440.7 484.8L440.7 479.4L446.9 479.4L484.9 479.4L523 479.4L561 479.4L599 479.4L637.1 479.4L675.1 479.4L680.8 479.4L680.8 484.8L680.8 501.6L680.8 518.5L680.8 534.6L675.1 534.6L670.3 535.3L637.1 541.6L603.8 552.1L599 562.6L561 561.2L523 560.4L484.9 564.7L478.8 568.9L484.9 574L523 580.9L561 574.7L594.3 585.7L599 587.1L637.1 600.4L645 602.5L675.1 612.5L680.8 612.5L680.8 619.3L680.8 636.1L680.8 653L680.8 658.3L675.1 658.3L637.1 658.3L599 658.3L561 658.3L523 658.3L484.9 658.3L446.9 658.3L408.9 658.3L370.8 658.3L332.8 658.3L294.8 658.3L256.7 658.3L218.7 658.3L180.7 658.3L142.6 658.3L136.9 658.3L136.9 653L136.9 636.1L136.9 619.3L136.9 602.5L136.9 585.7L136.9 568.9L136.9 552.1L136.9 546.8L142.6 546.8L155.7 535.3L149.8 518.5L142.6 516.9L136.9 516.9L136.9 501.6L136.9 484.8ZM332.8 615.5L327 619.3L329.9 636.1L332.8 642.4L370.8 647.7L408.9 642.4L410.9 636.1L408.9 629.8L370.8 624.6L358.9 619.3Z" fill="#60ff9f"/>
<path d="M136.9 479.4L142.6 479.4L180.7 479.4L195.5 479.4L195.5 484.8L189.2 501.6L180.7 517.2L142.6 509L136.9 509L136.9 501.6L136.9 484.8ZM445.1 479.4L446.9 479.4L484.9 479.4L523 479.4L561 479.4L599 479.4L637.1 479.4L675.1 479.4L680.8 479.4L680.8 484.8L680.8 501.6L680.8 518.5L680.8 531.1L675.1 531.1L646.6 535.3L637.1 537.1L599 548.3L561 551.5L558.4 552.1L523 557.5L484.9 559L470.4 568.9L484.9 581L523 585.1L561 582.5L570.5 585.7L599 594.1L623.5 602.5L637.1 613L665.6 619.3L675.1 621.4L680.8 621.4L680.8 636.1L680.8 653L680.8 658.3L675.1 658.3L637.1 658.3L599 658.3L561 658.3L523 658.3L484.9 658.3L446.9 658.3L422.5 658.3L422.5 653L421.1 636.1L419.4 619.3L408.9 613.3L370.8 612.3L332.8 610.2L319.1 619.3L315.7 636.1L317 653L317 658.3L294.8 658.3L256.7 658.3L218.7 658.3L180.7 658.3L142.6 658.3L136.9 658.3L136.9 653L136.9 636.1L136.9 619.3L136.9 602.5L136.9 585.7L136.9 568.9L136.9 558.1L142.6 558.1L150.6 552.1L173.5 535.3L180.7 522.7L190.2 535.3L218.7 542.8L256.7 546.2L275.8 535.3L294.8 526.9L313.2 518.5L332.8 513.5L368.3 518.5L370.8 519.3L408.9 522L419.4 518.5L446.9 502.8L447.5 501.6L446.9 497.4L445.1 484.8Z" fill="#70ff8f"/>
<path d="M136.9 479.4L142.6 479.4L180.7 479.4L192.6 479.4L192.6 484.8L184.3 501.6L180.7 508.2L145.8 501.6L142.6 501.3L136.9 501.3L136.9 484.8ZM450.8 479.4L484.9 479.4L523 479.4L561 479.4L599 479.4L637.1 479.4L675.1 479.4L680.8 479.4L680.8 484.8L680.8 501.6L680.8 518.5L680.8 527.6L675.1 527.6L637.1 532.9L624.8 535.3L599 542.5L561 547L539.2 552.1L523 554.5L484.9 553.2L462 568.9L479.7 585.7L484.9 587.6L523 589.9L561 588.9L599 601.1L603.1 602.5L623.7 619.3L637.1 631.9L665.6 636.1L675.1 638.2L680.8 638.2L680.8 653L680.8 658.3L675.1 658.3L637.1 658.3L599 658.3L561 658.3L523 658.3L484.9 658.3L446.9 658.3L442.8 658.3L442.8 653L431.3 636.1L435.3 619.3L408.9 604.3L380.3 602.5L370.8 602.1L366.1 602.5L332.8 605L311.1 619.3L301.4 636.1L294.8 650.8L294.1 653L294.1 658.3L256.7 658.3L218.7 658.3L180.7 658.3L142.6 658.3L136.9 658.3L136.9 653L136.9 636.1L136.9 619.3L136.9 602.5L136.9 585.7L136.9 568.9L136.9 567.1L142.6 567.1L162.4 552.1L180.7 540L218.7 549.1L252 552.1L256.7 552.4L257.4 552.1L286.7 535.3L294.8 531.7L323.9 518.5L332.8 516.2L349 518.5L370.8 525.6L408.9 527.2L435.3 518.5L446.9 511.8L452.3 501.6L450.8 484.8ZM180.7 635.9L179.9 636.1L180.7 637.1L181.2 636.1Z" fill="#80ff80"/>
<path d="M136.9 479.4L142.6 479.4L180.7 479.4L189.8 479.4L189.8 484.8L180.7 500.3L142.6 496.8L136.9 496.8L136.9 484.8ZM457.3 479.4L484.9 479.4L523 479.4L561 479.4L599 479.4L637.1 479.4L675.1 479.4L680.8 479.4L680.8 484.8L680.8 501.6L680.8 518.5L680.8 524.1L675.1 524.1L637.1 529L604.5 535.3L599 536.8L561 542.5L523 551.3L484.9 548.2L472.3 552.1L453.6 568.9L463.8 585.7L484.9 593.3L523 594.8L561 594.1L586.4 602.5L599 617.3L601.4 619.3L603.5 636.1L637.1 653L637.1 658.3L599 658.3L561 658.3L523 658.3L484.9 658.3L455.7 658.3L455.7 653L446.9 642.9L441.5 636.1L446.9 624.9L449.4 619.3L446.9 610.9L437.4 602.5L408.9 596.9L370.8 595.8L332.8 599.1L327.4 602.5L303.2 619.3L294.8 630.5L290 636.1L283.9 653L283.9 658.3L256.7 658.3L218.7 658.3L180.7 658.3L142.6 658.3L136.9 658.3L136.9 653L136.9 636.1L136.9 619.3L136.9 602.5L136.9 585.7L136.9 574.5L142.6 574.5L153 568.9L174.3 552.1L180.7 547.9L199.7 552.1L218.7 555.4L256.7 557.7L267.6 552.1L294.8 536.8L296.6 535.3L332.8 518.9L370.8 531.9L408.9 532.5L446.9 521.8L449.1 518.5L457 501.6L457.3 484.8ZM180.7 632.4L168 636.1L180.7 650.8L189.1 636.1Z" fill="#8fff70"/>
<path d="M136.9 479.4L142.6 479.4L180.7 479.4L186.9 479.4L186.9 484.8L180.7 495.5L142.6 492.3L136.9 492.3L136.9 484.8ZM463.8 479.4L484.9 479.4L523 479.4L561 479.4L599 479.4L637.1 479.4L675.1 479.4L680.8 479.4L680.8 484.8L680.8 501.6L680.8 518.5L680.8 520.6L675.1 520.6L637.1 525L599 532.5L578.1 535.3L561 538L523 546.3L484.9 543.3L456.4 552.1L446.9 564.7L445.4 568.9L446.9 581.5L448 585.7L446.9 587.1L408.9 589.9L370.8 589.5L332.8 592.8L317.2 602.5L295.3 619.3L294.8 620L281.1 636.1L273.7 653L273.7 658.3L256.7 658.3L218.7 658.3L193.4 658.3L193.4 653L197 636.1L180.7 628.9L156.1 636.1L164.5 653L164.5 658.3L142.6 658.3L136.9 658.3L136.9 653L136.9 636.1L136.9 619.3L136.9 602.5L136.9 585.7L136.9 581.5L142.6 581.5L166 568.9L180.7 557L218.7 561.7L256.7 562.9L277.8 552.1L294.8 542.5L303.4 535.3L332.8 522L367.1 535.3L370.8 536.9L408.9 537.1L442.1 535.3L446.9 534.4L457.5 518.5L461.8 501.6L463.8 484.8ZM467.8 602.5L484.9 599.1L523 599.6L561 599.4L570.5 602.5L589.7 619.3L590.9 636.1L599 643.5L619.2 653L619.2 658.3L599 658.3L561 658.3L523 658.3L484.9 658.3L466.6 658.3L466.6 653L453.6 636.1L458.9 619.3Z" fill="#9fff60"/>
<path d="M136.9 479.4L142.6 479.4L180.7 479.4L184.1 479.4L184.1 484.8L180.7 490.6L142.6 487.8L136.9 487.8L136.9 484.8ZM470.2 479.4L484.9 479.4L523 479.4L561 479.4L599 479.4L637.1 479.4L675.1 479.4L680.8 479.4L680.8 484.8L680.8 501.6L680.8 512.1L675.1 512.1L660.8 518.5L637.1 521.1L599 528.8L561 533.5L551.5 535.3L523 541.3L484.9 538.5L469.1 535.3L465.9 518.5L466.6 501.6L470.2 484.8ZM310.2 535.3L332.8 525.1L359.2 535.3L370.8 540.4L408.9 541L442.1 552.1L437.9 568.9L408.9 584.1L370.8 583.6L342.3 585.7L332.8 586.5L307 602.5L294.8 612L287.4 619.3L272.2 636.1L263.5 653L263.5 658.3L256.7 658.3L218.7 658.3L208.6 658.3L208.6 653L205 636.1L180.7 625.4L144.2 636.1L145.2 653L145.2 658.3L142.6 658.3L136.9 658.3L136.9 653L136.9 636.1L136.9 619.3L136.9 602.5L136.9 592L142.6 592L152.1 585.7L178.9 568.9L180.7 567.5L218.7 568L256.7 568.2L288 552.1L294.8 548.3ZM468.5 619.3L484.9 605.7L523 604.6L561 605.7L579.2 619.3L581.7 636.1L599 651.8L601.4 653L601.4 658.3L599 658.3L561 658.3L523 658.3L484.9 658.3L477.6 658.3L477.6 653L467.8 636.1Z" fill="#afff50"/>
<path d="M166.4 479.4L180.7 479.4L181.2 479.4L181.2 484.8L180.7 485.8L166.4 484.8ZM476.7 479.4L484.9 479.4L523 479.4L561 479.4L599 479.4L637.1 479.4L675.1 479.4L680.8 479.4L680.8 484.8L680.8 491.1L675.1 491.1L667.2 501.6L637.1 514.9L631.1 518.5L599 525.1L561 529L527.7 535.3L523 536.3L508.7 535.3L484.9 531.8L474.3 518.5L471.3 501.6L476.7 484.8ZM317 535.3L332.8 528.1L351.3 535.3L370.8 543.9L408.9 545L430.3 552.1L430.4 568.9L408.9 580.2L370.8 578.3L332.8 580.2L301.9 585.7L296.8 602.5L294.8 604.1L279.4 619.3L263.3 636.1L256.7 647.7L218.7 647.7L212.9 636.1L180.7 621.9L154.5 619.3L150.6 602.5L175.9 585.7L180.7 582.5L218.7 575.7L256.7 578L287.6 568.9L294.8 562.6L297.1 552.1ZM478 619.3L484.9 613.5L523 609.9L561 613.5L568.7 619.3L572.6 636.1L583.6 653L583.6 658.3L561 658.3L523 658.3L496.8 658.3L496.8 653L484.9 642.4L482.1 636.1Z" fill="#bfff40"/>
<path d="M483.2 479.4L484.9 479.4L523 479.4L561 479.4L599 479.4L637.1 479.4L665.6 479.4L665.6 484.8L643.4 501.6L637.1 504.4L613.3 518.5L599 521.4L561 524.5L523 532.1L484.9 521.3L482.7 518.5L476.1 501.6L483.2 484.8ZM323.7 535.3L332.8 531.2L343.4 535.3L370.8 547.4L408.9 548.9L418.4 552.1L422.9 568.9L408.9 576.2L370.8 573.1L332.8 573.9L313.8 568.9L304.3 552.1ZM209.2 585.7L218.7 583.6L237.7 585.7L256.7 587.1L286.6 602.5L271.5 619.3L256.7 634L218.7 634.5L184.5 619.3L180.7 610.9L174.3 602.5L180.7 598.3ZM494.4 619.3L523 615.1L551.5 619.3L561 627.7L563.4 636.1L565.8 653L565.8 658.3L561 658.3L542 658.3L542 653L523 644.5L513.5 636.1Z" fill="#cfff30"/>
<path d="M498 479.4L523 479.4L561 479.4L599 479.4L637.1 479.4L653.7 479.4L653.7 484.8L637.1 495.9L624 501.6L599 516.3L584.8 518.5L561 520L523 528.2L493.6 518.5L484.9 510.7L480.8 501.6L484.9 492.5L498 484.8ZM330.5 535.3L332.8 534.2L335.4 535.3L370.8 550.9L394.6 552.1L408.9 555.2L415.4 568.9L408.9 572.3L378 568.9L370.8 562.6L332.8 567.8L311.4 552.1ZM191.1 602.5L218.7 590.3L256.7 592.4L276.4 602.5L263.6 619.3L256.7 626.2L218.7 628.2L198.7 619.3Z" fill="#dfff20"/>
<path d="M515.8 479.4L523 479.4L551.5 479.4L551.5 484.8L561 489L562.1 484.8L562.1 479.4L599 479.4L637.1 479.4L641.8 479.4L641.8 484.8L637.1 488L606.2 501.6L599 505.8L561 507.9L549.1 518.5L523 524.2L505.5 518.5L486.1 501.6L515.8 484.8ZM318.5 552.1L332.8 539.5L361.3 552.1L332.8 562.6ZM205.4 602.5L218.7 596.6L256.7 597.6L266.2 602.5L256.7 617.2L247.2 619.3L218.7 621.8L213 619.3Z" fill="#efff10"/>
<path d="M570 479.4L599 479.4L631.7 479.4L631.7 484.8L599 499.3L570 484.8ZM495 501.6L523 487.5L554.9 501.6L531.3 518.5L523 520.3L517.4 518.5ZM325.7 552.1L332.8 545.8L347.1 552.1L332.8 557.3Z" fill="#ffff00"/>
<path d="M577.9 479.4L599 479.4L622.8 479.4L622.8 484.8L599 495.3L577.9 484.8ZM504 501.6L523 492L544.7 501.6L523 515.1Z" fill="#ffef00"/>
<path d="M585.8 479.4L599 479.4L613.9 479.4L613.9 484.8L599 491.4L585.8 484.8ZM512.9 501.6L523 496.5L534.5 501.6L523 508.8Z" fill="#ffdf00"/>
<path d="M593.8 479.4L599 479.4L605 479.4L605 484.8L599 487.5L593.8 484.8ZM521.8 501.6L523 501L524.3 501.6L523 502.5Z" fill="#ffcf00"/>
</g>
<polyline points="142.6,492 179,500 191,485.2" class="zl"/>
<polyline points="142.6,575.5 180.6,548.9 218.6,555.8 256.6,558.7 275.7,551.2 294.6,540.5 298.4,535.3 333.3,518.5 370.8,532.5 408.8,533.6 446.7,520 454.7,502.2 466.1,485.2" class="zl"/>
<polyline points="285.9,652.7 291.6,635.9 303,619.1 323.4,602.4 333.3,597.9 370.8,594.4 408.8,597.4 441,602 446.7,609.2 448.5,619.1 441,635.9 457.4,652.7" class="zl"/>
<polyline points="164.2,636.5 180.6,629.3 188.1,636.5 180.6,650.7 164.2,636.5" class="zl"/>
<polyline points="674.9,526.9 636.9,525.4 600.3,536.9 598,538.2 560.9,542.1 522.9,551.2 484.7,545.1 461.5,551.9 454.7,568.8 459.2,586 484.7,593.8 522.9,597.9 560.9,596.1 584.3,602.4 596.8,619.1 599.8,635.9 636.9,651.3" class="zl"/>
<path d="M142.6 720.2v-6.5M142.6 451.2v6.5M218.7 720.2v-6.5M218.7 451.2v6.5M294.8 720.2v-6.5M294.8 451.2v6.5M370.8 720.2v-6.5M370.8 451.2v6.5M446.9 720.2v-6.5M446.9 451.2v6.5M523 720.2v-6.5M523 451.2v6.5M599 720.2v-6.5M599 451.2v6.5M675.1 720.2v-6.5M675.1 451.2v6.5M751.2 720.2v-6.5M751.2 451.2v6.5M104.6 720.2h7M789.2 720.2h-7M104.6 653h7M789.2 653h-7M104.6 585.7h7M789.2 585.7h-7M104.6 518.5h7M789.2 518.5h-7M104.6 451.2h7M789.2 451.2h-7" class="tk"/>
<rect x="104.6" y="451.2" width="684.6" height="269" class="ax"/>
<text x="113.2" y="749.8" class="t25">−80</text>
<text x="189.3" y="749.8" class="t25">−60</text>
<text x="265.4" y="749.8" class="t25">−40</text>
<text x="341.4" y="749.8" class="t25">−20</text>
<text x="439.8" y="749.8" class="t25">0</text>
<text x="508.7" y="749.8" class="t25">20</text>
<text x="584.8" y="749.8" class="t25">40</text>
<text x="660.8" y="749.8" class="t25">60</text>
<text x="736.9" y="749.8" class="t25">80</text>
<text x="100" y="729.8" class="t25 e">70</text>
<text x="100" y="662.6" class="t25 e">80</text>
<text x="100" y="595.3" class="t25 e">90</text>
<text x="100" y="528.1" class="t25 e">100</text>
<text x="100" y="460.8" class="t25 e">110</text>
<text transform="translate(42.9 584.8) rotate(-90)" class="t25 m yl">altitude / km</text>
<text y="431" x="282.3 298.4 305.6 323.9 328.9 338 353.7 367.9 382.2 396.2 400.2 409.1 430.5 444.3 458.5 468.6 479.6 487.8 501.3 515.4 529.3 535.3 545.3 553.9 571 587.7 603" font-size="18">TIDI Zonal Mean (Jan) (ASF)</text>
<text y="778.9" x="381.6 387.9 404.2 412.4 419.1 426.7 442.8 459.7 469.8 483.7 488.7 500.4" font-size="18">latitude / °</text>
<text x="112.3" y="438" font-size="27" letter-spacing="1.1">(c)</text>
<rect x="817" y="451.2" width="37.1" height="269" fill="#00008f"/>
<rect x="817" y="451.2" width="37.1" height="264.8" fill="#00009f"/>
<rect x="817" y="451.2" width="37.1" height="260.6" fill="#0000af"/>
<rect x="817" y="451.2" width="37.1" height="256.4" fill="#0000bf"/>
<rect x="817" y="451.2" width="37.1" height="252.2" fill="#0000cf"/>
<rect x="817" y="451.2" width="37.1" height="248" fill="#0000df"/>
<rect x="817" y="451.2" width="37.1" height="243.8" fill="#0000ef"/>
<rect x="817" y="451.2" width="37.1" height="239.6" fill="#0000ff"/>
<rect x="817" y="451.2" width="37.1" height="235.4" fill="#0010ff"/>
<rect x="817" y="451.2" width="37.1" height="231.2" fill="#0020ff"/>
<rect x="817" y="451.2" width="37.1" height="227" fill="#0030ff"/>
<rect x="817" y="451.2" width="37.1" height="222.8" fill="#0040ff"/>
<rect x="817" y="451.2" width="37.1" height="218.6" fill="#0050ff"/>
<rect x="817" y="451.2" width="37.1" height="214.4" fill="#0060ff"/>
<rect x="817" y="451.2" width="37.1" height="210.2" fill="#0070ff"/>
<rect x="817" y="451.2" width="37.1" height="206" fill="#0080ff"/>
<rect x="817" y="451.2" width="37.1" height="201.8" fill="#008fff"/>
<rect x="817" y="451.2" width="37.1" height="197.5" fill="#009fff"/>
<rect x="817" y="451.2" width="37.1" height="193.3" fill="#00afff"/>
<rect x="817" y="451.2" width="37.1" height="189.1" fill="#00bfff"/>
<rect x="817" y="451.2" width="37.1" height="184.9" fill="#00cfff"/>
<rect x="817" y="451.2" width="37.1" height="180.7" fill="#00dfff"/>
<rect x="817" y="451.2" width="37.1" height="176.5" fill="#00efff"/>
<rect x="817" y="451.2" width="37.1" height="172.3" fill="#00ffff"/>
<rect x="817" y="451.2" width="37.1" height="168.1" fill="#10ffef"/>
<rect x="817" y="451.2" width="37.1" height="163.9" fill="#20ffdf"/>
<rect x="817" y="451.2" width="37.1" height="159.7" fill="#30ffcf"/>
<rect x="817" y="451.2" width="37.1" height="155.5" fill="#40ffbf"/>
<rect x="817" y="451.2" width="37.1" height="151.3" fill="#50ffaf"/>
<rect x="817" y="451.2" width="37.1" height="147.1" fill="#60ff9f"/>
<rect x="817" y="451.2" width="37.1" height="142.9" fill="#70ff8f"/>
<rect x="817" y="451.2" width="37.1" height="138.7" fill="#80ff80"/>
<rect x="817" y="451.2" width="37.1" height="134.5" fill="#8fff70"/>
<rect x="817" y="451.2" width="37.1" height="130.3" fill="#9fff60"/>
<rect x="817" y="451.2" width="37.1" height="126.1" fill="#afff50"/>
<rect x="817" y="451.2" width="37.1" height="121.9" fill="#bfff40"/>
<rect x="817" y="451.2" width="37.1" height="117.7" fill="#cfff30"/>
<rect x="817" y="451.2" width="37.1" height="113.5" fill="#dfff20"/>
<rect x="817" y="451.2" width="37.1" height="109.3" fill="#efff10"/>
<rect x="817" y="451.2" width="37.1" height="105.1" fill="#ffff00"/>
<rect x="817" y="451.2" width="37.1" height="100.9" fill="#ffef00"/>
<rect x="817" y="451.2" width="37.1" height="96.7" fill="#ffdf00"/>
<rect x="817" y="451.2" width="37.1" height="92.5" fill="#ffcf00"/>
<rect x="817" y="451.2" width="37.1" height="88.3" fill="#ffbf00"/>
<rect x="817" y="451.2" width="37.1" height="84.1" fill="#ffaf00"/>
<rect x="817" y="451.2" width="37.1" height="79.9" fill="#ff9f00"/>
<rect x="817" y="451.2" width="37.1" height="75.7" fill="#ff8f00"/>
<rect x="817" y="451.2" width="37.1" height="71.5" fill="#ff8000"/>
<rect x="817" y="451.2" width="37.1" height="67.2" fill="#ff7000"/>
<rect x="817" y="451.2" width="37.1" height="63" fill="#ff6000"/>
<rect x="817" y="451.2" width="37.1" height="58.8" fill="#ff5000"/>
<rect x="817" y="451.2" width="37.1" height="54.6" fill="#ff4000"/>
<rect x="817" y="451.2" width="37.1" height="50.4" fill="#ff3000"/>
<rect x="817" y="451.2" width="37.1" height="46.2" fill="#ff2000"/>
<rect x="817" y="451.2" width="37.1" height="42" fill="#ff1000"/>
<rect x="817" y="451.2" width="37.1" height="37.8" fill="#ff0000"/>
<rect x="817" y="451.2" width="37.1" height="33.6" fill="#ef0000"/>
<rect x="817" y="451.2" width="37.1" height="29.4" fill="#df0000"/>
<rect x="817" y="451.2" width="37.1" height="25.2" fill="#cf0000"/>
<rect x="817" y="451.2" width="37.1" height="21" fill="#bf0000"/>
<rect x="817" y="451.2" width="37.1" height="16.8" fill="#af0000"/>
<rect x="817" y="451.2" width="37.1" height="12.6" fill="#9f0000"/>
<rect x="817" y="451.2" width="37.1" height="8.4" fill="#8f0000"/>
<rect x="817" y="451.2" width="37.1" height="4.2" fill="#800000"/>
<path d="M817 675.4h2.5M854.1 675.4h-2.5M817 630.5h2.5M854.1 630.5h-2.5M817 585.7h2.5M854.1 585.7h-2.5M817 540.9h2.5M854.1 540.9h-2.5M817 496h2.5M854.1 496h-2.5" class="tk"/>
<rect x="817" y="451.2" width="37.1" height="269" class="ax"/>
<text x="859.1" y="460.6" class="t25">60</text>
<text x="859.1" y="505.6" class="t25">40</text>
<text x="859.1" y="550.6" class="t25">20</text>
<text x="859.1" y="595.6" class="t25">0</text>
<text x="859.1" y="640.6" class="t25">−20</text>
<text x="859.1" y="685.6" class="t25">−40</text>
<text x="859.1" y="730.6" class="t25">−60</text>
<text transform="translate(931.5 583.1) rotate(-90)" class="t25 m cl2">merid / m/s</text>
</g>
<g>
<clipPath id="clipd"><polygon points="1157.7,518.5 1195.7,501.6 1233.8,501.6 1271.8,484.8 1690.2,484.8 1690.2,653 1157.7,653"/></clipPath>
<g clip-path="url(#clipd)">
<rect x="1151" y="477.1" width="545.9" height="183.6" fill="#00cfff"/>
<path d="M1152 479.4L1157.7 479.4L1195.7 479.4L1233.8 479.4L1271.8 479.4L1309.8 479.4L1347.9 479.4L1385.9 479.4L1423.9 479.4L1462 479.4L1500 479.4L1538 479.4L1576.1 479.4L1614.1 479.4L1652.1 479.4L1690.2 479.4L1695.9 479.4L1695.9 484.8L1695.9 501.6L1695.9 518.5L1695.9 535.3L1695.9 552.1L1695.9 568.9L1695.9 585.7L1695.9 602.5L1695.9 619.3L1695.9 636.1L1695.9 653L1695.9 658.3L1690.2 658.3L1652.1 658.3L1614.1 658.3L1576.1 658.3L1538 658.3L1500 658.3L1462 658.3L1423.9 658.3L1385.9 658.3L1347.9 658.3L1309.8 658.3L1271.8 658.3L1233.8 658.3L1195.7 658.3L1157.7 658.3L1152 658.3L1152 653L1152 636.1L1152 619.3L1152 602.5L1152 585.7L1152 568.9L1152 552.1L1152 535.3L1152 518.5L1152 501.6L1152 484.8ZM1462 550.4L1457.9 552.1L1462 553.9L1466 552.1Z" fill="#00dfff"/>
<path d="M1152 479.4L1157.7 479.4L1195.7 479.4L1233.8 479.4L1271.8 479.4L1309.8 479.4L1347.9 479.4L1385.9 479.4L1423.9 479.4L1462 479.4L1500 479.4L1538 479.4L1576.1 479.4L1614.1 479.4L1652.1 479.4L1690.2 479.4L1695.9 479.4L1695.9 484.8L1695.9 501.6L1695.9 518.5L1695.9 535.3L1695.9 552.1L1695.9 568.9L1695.9 585.7L1695.9 602.5L1695.9 619.3L1695.9 636.1L1695.9 653L1695.9 658.3L1690.2 658.3L1652.1 658.3L1614.1 658.3L1576.1 658.3L1538 658.3L1500 658.3L1462 658.3L1423.9 658.3L1385.9 658.3L1347.9 658.3L1309.8 658.3L1271.8 658.3L1233.8 658.3L1195.7 658.3L1157.7 658.3L1152 658.3L1152 653L1152 636.1L1152 619.3L1152 602.5L1152 585.7L1152 568.9L1152 552.1L1152 535.3L1152 518.5L1152 501.6L1152 484.8ZM1462 548.2L1452.5 552.1L1462 556.3L1471.5 552.1Z" fill="#00efff"/>
<path d="M1152 479.4L1157.7 479.4L1195.7 479.4L1233.8 479.4L1271.8 479.4L1309.8 479.4L1347.9 479.4L1385.9 479.4L1423.9 479.4L1462 479.4L1500 479.4L1538 479.4L1576.1 479.4L1614.1 479.4L1652.1 479.4L1690.2 479.4L1695.9 479.4L1695.9 484.8L1695.9 501.6L1695.9 518.5L1695.9 535.3L1695.9 552.1L1695.9 568.9L1695.9 585.7L1695.9 602.5L1695.9 619.3L1695.9 636.1L1695.9 653L1695.9 658.3L1690.2 658.3L1652.1 658.3L1614.1 658.3L1576.1 658.3L1538 658.3L1500 658.3L1462 658.3L1423.9 658.3L1385.9 658.3L1347.9 658.3L1309.8 658.3L1271.8 658.3L1233.8 658.3L1195.7 658.3L1157.7 658.3L1152 658.3L1152 653L1152 636.1L1152 619.3L1152 602.5L1152 585.7L1152 568.9L1152 552.1L1152 535.3L1152 518.5L1152 501.6L1152 484.8ZM1462 545.9L1447 552.1L1462 558.7L1477 552.1ZM1614.1 615.5L1605.5 619.3L1614.1 620.8L1620.2 619.3Z" fill="#00ffff"/>
<path d="M1152 479.4L1157.7 479.4L1195.7 479.4L1233.8 479.4L1271.8 479.4L1309.8 479.4L1347.9 479.4L1385.9 479.4L1423.9 479.4L1462 479.4L1500 479.4L1538 479.4L1576.1 479.4L1614.1 479.4L1652.1 479.4L1690.2 479.4L1695.9 479.4L1695.9 484.8L1695.9 501.6L1695.9 518.5L1695.9 535.3L1695.9 552.1L1695.9 568.9L1695.9 585.7L1695.9 602.5L1695.9 619.3L1695.9 636.1L1695.9 653L1695.9 658.3L1690.2 658.3L1652.1 658.3L1614.1 658.3L1576.1 658.3L1538 658.3L1500 658.3L1462 658.3L1423.9 658.3L1385.9 658.3L1347.9 658.3L1309.8 658.3L1271.8 658.3L1233.8 658.3L1195.7 658.3L1157.7 658.3L1152 658.3L1152 653L1152 636.1L1152 619.3L1152 602.5L1152 585.7L1152 568.9L1152 552.1L1152 535.3L1152 518.5L1152 501.6L1152 484.8ZM1271.8 613.7L1267 619.3L1271.8 624.9L1281.3 619.3ZM1462 543.7L1441.5 552.1L1462 561.1L1482.4 552.1ZM1614.1 609.2L1591.3 619.3L1614.1 623.2L1630.4 619.3Z" fill="#10ffef"/>
<path d="M1152 479.4L1157.7 479.4L1195.7 479.4L1233.8 479.4L1271.8 479.4L1309.8 479.4L1347.9 479.4L1385.9 479.4L1423.9 479.4L1462 479.4L1500 479.4L1538 479.4L1576.1 479.4L1614.1 479.4L1652.1 479.4L1690.2 479.4L1695.9 479.4L1695.9 484.8L1695.9 501.6L1695.9 518.5L1695.9 535.3L1695.9 552.1L1695.9 568.9L1695.9 585.7L1695.9 602.5L1695.9 619.3L1695.9 636.1L1695.9 653L1695.9 658.3L1690.2 658.3L1652.1 658.3L1614.1 658.3L1576.1 658.3L1538 658.3L1500 658.3L1462 658.3L1423.9 658.3L1385.9 658.3L1347.9 658.3L1309.8 658.3L1271.8 658.3L1233.8 658.3L1195.7 658.3L1157.7 658.3L1152 658.3L1152 653L1152 636.1L1152 619.3L1152 602.5L1152 585.7L1152 568.9L1152 552.1L1152 535.3L1152 518.5L1152 501.6L1152 484.8ZM1271.8 603.2L1258.1 619.3L1271.8 635.4L1299.1 619.3ZM1462 541.4L1436 552.1L1462 563.6L1487.9 552.1ZM1614.1 602.9L1577 619.3L1614.1 625.6L1640.6 619.3Z" fill="#20ffdf"/>
<path d="M1152 479.4L1157.7 479.4L1195.7 479.4L1233.8 479.4L1271.8 479.4L1309.8 479.4L1347.9 479.4L1385.9 479.4L1423.9 479.4L1462 479.4L1500 479.4L1538 479.4L1576.1 479.4L1614.1 479.4L1652.1 479.4L1690.2 479.4L1695.9 479.4L1695.9 484.8L1695.9 501.6L1695.9 518.5L1695.9 535.3L1695.9 552.1L1695.9 568.9L1695.9 585.7L1695.9 602.5L1695.9 619.3L1695.9 636.1L1695.9 653L1695.9 658.3L1690.2 658.3L1652.1 658.3L1614.1 658.3L1576.1 658.3L1538 658.3L1500 658.3L1462 658.3L1423.9 658.3L1385.9 658.3L1347.9 658.3L1309.8 658.3L1271.8 658.3L1233.8 658.3L1195.7 658.3L1157.7 658.3L1152 658.3L1152 653L1152 636.1L1152 619.3L1152 602.5L1152 585.7L1152 568.9L1152 552.1L1152 535.3L1152 518.5L1152 501.6L1152 484.8ZM1271.8 595.2L1258.5 602.5L1249.2 619.3L1263.5 636.1L1271.8 645.9L1305.1 636.1L1309.8 631.9L1338.4 619.3L1309.8 606.7L1305.1 602.5ZM1309.8 497.4L1306.7 501.6L1309.8 504.8L1347.9 509L1353.9 501.6L1347.9 486.9ZM1462 539.2L1430.5 552.1L1462 566L1493.4 552.1ZM1614.1 596.6L1580.8 602.5L1576.1 604.6L1565 619.3L1576.1 622.1L1614.1 628.1L1650.8 619.3L1627.4 602.5Z" fill="#30ffcf"/>
<path d="M1152 479.4L1157.7 479.4L1195.7 479.4L1233.8 479.4L1271.8 479.4L1309.8 479.4L1317 479.4L1317 484.8L1309.8 486.9L1298.7 501.6L1309.8 512.7L1347.9 516.9L1360.4 501.6L1353.8 484.8L1353.8 479.4L1385.9 479.4L1423.9 479.4L1462 479.4L1500 479.4L1538 479.4L1576.1 479.4L1614.1 479.4L1652.1 479.4L1690.2 479.4L1695.9 479.4L1695.9 484.8L1695.9 501.6L1695.9 518.5L1695.9 535.3L1695.9 552.1L1695.9 568.9L1695.9 585.7L1695.9 602.5L1695.9 619.3L1695.9 636.1L1695.9 653L1695.9 658.3L1690.2 658.3L1652.1 658.3L1614.1 658.3L1576.1 658.3L1538 658.3L1500 658.3L1462 658.3L1423.9 658.3L1385.9 658.3L1347.9 658.3L1309.8 658.3L1295.6 658.3L1295.6 653L1309.8 649.8L1325.3 636.1L1347.9 626.2L1352.6 619.3L1347.9 605.7L1340.7 602.5L1309.8 588.9L1271.8 587.3L1244.2 602.5L1240.3 619.3L1254.6 636.1L1269.3 653L1269.3 658.3L1233.8 658.3L1195.7 658.3L1157.7 658.3L1152 658.3L1152 653L1152 636.1L1152 619.3L1152 602.5L1152 585.7L1152 568.9L1152 552.1L1152 535.3L1152 518.5L1152 501.6L1152 484.8ZM1462 536.9L1425 552.1L1462 568.4L1498.9 552.1ZM1576.1 593.4L1563.7 602.5L1553.1 619.3L1576.1 625.1L1614.1 630.5L1652.1 623.9L1664.5 619.3L1652.1 610.2L1641.7 602.5L1614.1 590.3Z" fill="#40ffbf"/>
<path d="M1152 479.4L1157.7 479.4L1195.7 479.4L1233.8 479.4L1271.8 479.4L1304.4 479.4L1304.4 484.8L1290.8 501.6L1303.5 518.5L1309.8 519.9L1347.9 522.7L1356 518.5L1366.9 501.6L1360.5 484.8L1360.5 479.4L1385.9 479.4L1423.9 479.4L1462 479.4L1500 479.4L1538 479.4L1576.1 479.4L1614.1 479.4L1652.1 479.4L1690.2 479.4L1695.9 479.4L1695.9 484.8L1695.9 501.6L1695.9 518.5L1695.9 535.3L1695.9 552.1L1695.9 568.9L1695.9 585.7L1695.9 602.5L1695.9 619.3L1695.9 636.1L1695.9 653L1695.9 658.3L1690.2 658.3L1652.1 658.3L1614.1 658.3L1576.1 658.3L1538 658.3L1500 658.3L1462 658.3L1423.9 658.3L1385.9 658.3L1347.9 658.3L1315.5 658.3L1315.5 653L1343.1 636.1L1347.9 634L1358.1 619.3L1354.4 602.5L1347.9 589.9L1338.4 585.7L1309.8 580.7L1271.8 579.4L1243.3 585.7L1233.8 594.1L1227.4 602.5L1231.3 619.3L1233.8 622.1L1245.7 636.1L1261.8 653L1261.8 658.3L1233.8 658.3L1195.7 658.3L1157.7 658.3L1152 658.3L1152 653L1152 636.1L1152 619.3L1152 602.5L1152 585.7L1152 568.9L1152 552.1L1152 535.3L1152 531.1L1157.7 531.1L1195.7 526.9L1233.8 521.3L1240.1 518.5L1233.8 514.2L1205.2 501.6L1195.7 498.8L1186.2 501.6L1157.7 510L1152 510L1152 501.6L1152 484.8ZM1462 534.3L1457.2 535.3L1423.9 547L1419.2 552.1L1423.9 555.2L1454.8 568.9L1462 573.9L1481 568.9L1500 560.5L1519 552.1L1500 545.8L1468.3 535.3ZM1576.1 582.9L1566.6 585.7L1549.4 602.5L1541.2 619.3L1576.1 628.1L1614.1 632.9L1652.1 629.1L1678.8 619.3L1661.6 602.5L1652.1 601.4L1616.6 585.7L1614.1 583.6Z" fill="#50ffaf"/>
<path d="M1152 479.4L1157.7 479.4L1195.7 479.4L1233.8 479.4L1271.8 479.4L1297.6 479.4L1297.6 484.8L1282.9 501.6L1279.7 518.5L1309.8 525.1L1347.9 527.9L1366.2 518.5L1373.4 501.6L1367.3 484.8L1367.3 479.4L1385.9 479.4L1423.9 479.4L1462 479.4L1500 479.4L1538 479.4L1576.1 479.4L1614.1 479.4L1652.1 479.4L1690.2 479.4L1695.9 479.4L1695.9 484.8L1695.9 501.6L1695.9 518.5L1695.9 535.3L1695.9 552.1L1695.9 568.9L1695.9 585.7L1695.9 599.4L1690.2 599.4L1652.1 597.3L1625.8 585.7L1614.1 575.7L1576.1 572.4L1538 579.4L1535.8 585.7L1536.7 602.5L1534.3 619.3L1538 623.5L1576.1 631.1L1614.1 635.3L1652.1 634.4L1690.2 620.7L1695.9 620.7L1695.9 636.1L1695.9 653L1695.9 658.3L1690.2 658.3L1652.1 658.3L1614.1 658.3L1576.1 658.3L1538 658.3L1500 658.3L1462 658.3L1423.9 658.3L1385.9 658.3L1347.9 658.3L1322.7 658.3L1322.7 653L1347.9 639L1353.1 636.1L1363.6 619.3L1362.6 602.5L1359.5 585.7L1347.9 581.8L1309.8 574.4L1271.8 571.5L1233.8 578L1220.7 585.7L1203.7 602.5L1222 619.3L1233.8 632.6L1236.7 636.1L1254.3 653L1254.3 658.3L1233.8 658.3L1195.7 658.3L1157.7 658.3L1152 658.3L1152 653L1152 636.1L1152 619.3L1152 608.3L1157.7 608.3L1183.8 602.5L1157.7 598.3L1152 598.3L1152 585.7L1152 568.9L1152 552.1L1152 538L1157.7 538L1195.7 538.4L1221.9 535.3L1233.8 531.8L1263.9 518.5L1238.5 501.6L1233.8 498.5L1195.7 488.3L1157.7 495.3L1152 495.3L1152 484.8ZM1462 530.6L1439.4 535.3L1423.9 540.7L1413.2 552.1L1423.9 559.2L1445.9 568.9L1462 580.2L1500 569.9L1514.3 568.9L1538 558.4L1540.9 552.1L1538 550.5L1500 537.9L1492.1 535.3Z" fill="#60ff9f"/>
<path d="M1235.5 479.4L1271.8 479.4L1290.8 479.4L1290.8 484.8L1275 501.6L1271.8 507.9L1262.3 501.6L1235.5 484.8ZM1374.1 479.4L1385.9 479.4L1423.9 479.4L1462 479.4L1500 479.4L1538 479.4L1576.1 479.4L1614.1 479.4L1652.1 479.4L1690.2 479.4L1695.9 479.4L1695.9 484.8L1695.9 501.6L1695.9 518.5L1695.9 535.3L1695.9 552.1L1695.9 568.9L1695.9 584.7L1690.2 584.7L1687.6 585.7L1652.1 593.2L1635.1 585.7L1615.2 568.9L1614.1 568L1576.1 563.6L1555.1 552.1L1538 542.6L1515.8 535.3L1500 532.3L1462 526.9L1423.9 534.7L1422.3 535.3L1407.3 552.1L1423.9 563.1L1437 568.9L1460.8 585.7L1462 586.5L1464.2 585.7L1500 574.9L1524.4 585.7L1530.3 602.5L1529.2 619.3L1538 629.3L1576.1 634.1L1595.1 636.1L1614.1 638.8L1652.1 639.1L1665.7 636.1L1690.2 627.7L1695.9 627.7L1695.9 636.1L1695.9 653L1695.9 658.3L1690.2 658.3L1652.1 658.3L1614.1 658.3L1576.1 658.3L1538 658.3L1500 658.3L1462 658.3L1423.9 658.3L1385.9 658.3L1347.9 658.3L1329.8 658.3L1329.8 653L1347.9 643L1360.2 636.1L1369.1 619.3L1370.8 602.5L1375.3 585.7L1347.9 576.6L1313 568.9L1309.8 566.8L1271.8 561.9L1233.8 566.8L1232.4 568.9L1202.9 585.7L1195.7 592L1157.7 592.6L1152 592.6L1152 585.7L1152 568.9L1152 552.1L1152 541.7L1157.7 541.7L1195.7 542.7L1233.8 542.3L1249.6 535.3L1271.8 525.5L1309.8 530.4L1347.9 533.2L1376.4 518.5L1379.8 501.6L1374.1 484.8ZM1152 619.3L1152 616.2L1157.7 616.2L1195.7 607L1212.8 619.3L1227.8 636.1L1233.8 640.8L1246.8 653L1246.8 658.3L1233.8 658.3L1195.7 658.3L1157.7 658.3L1152 658.3L1152 653L1152 636.1Z" fill="#70ff8f"/>
<path d="M1248.5 479.4L1271.8 479.4L1284 479.4L1284 484.8L1271.8 497.4L1248.5 484.8ZM1380.9 479.4L1385.9 479.4L1423.9 479.4L1462 479.4L1500 479.4L1538 479.4L1576.1 479.4L1614.1 479.4L1652.1 479.4L1690.2 479.4L1695.9 479.4L1695.9 484.8L1695.9 501.6L1695.9 518.5L1695.9 535.3L1695.9 552.1L1695.9 568.9L1695.9 577.4L1690.2 577.4L1668.3 585.7L1652.1 589.1L1644.4 585.7L1623.1 568.9L1614.1 561.4L1576.1 555.8L1569.4 552.1L1538.8 535.3L1538 535L1500 527.8L1462 523.1L1423.9 530.8L1410.5 535.3L1401.4 552.1L1423.9 567L1428.1 568.9L1451.9 585.7L1462 592.8L1480.8 585.7L1500 579.9L1513.1 585.7L1523.8 602.5L1524.1 619.3L1538 635L1552.3 636.1L1576.1 636.8L1614.1 642.7L1652.1 643.6L1686.1 636.1L1690.2 634.7L1695.9 634.7L1695.9 636.1L1695.9 653L1695.9 658.3L1690.2 658.3L1652.1 658.3L1614.1 658.3L1576.1 658.3L1538 658.3L1500 658.3L1462 658.3L1423.9 658.3L1385.9 658.3L1347.9 658.3L1336.9 658.3L1336.9 653L1347.9 646.9L1367.4 636.1L1374.6 619.3L1379 602.5L1385.9 590.5L1389.6 585.7L1385.9 583.1L1347.9 571.3L1336.8 568.9L1347.9 554.2L1348.8 552.1L1356.4 535.3L1385.9 519L1386.7 518.5L1386.4 501.6L1385.9 500.2L1380.9 484.8ZM1152 552.1L1152 545.4L1157.7 545.4L1195.7 547.1L1231.7 552.1L1222.2 568.9L1195.7 582.5L1167.2 585.7L1157.7 586.8L1152 586.8L1152 585.7L1152 568.9ZM1173.5 619.3L1195.7 613.7L1203.5 619.3L1218.9 636.1L1233.8 647.8L1239.3 653L1239.3 658.3L1233.8 658.3L1195.7 658.3L1157.7 658.3L1152 658.3L1152 653L1152 636.1L1152 625.2L1157.7 625.2Z" fill="#80ff80"/>
<path d="M1261.4 479.4L1271.8 479.4L1277.2 479.4L1277.2 484.8L1271.8 490.4L1261.4 484.8ZM1388.1 479.4L1423.9 479.4L1462 479.4L1500 479.4L1538 479.4L1576.1 479.4L1614.1 479.4L1652.1 479.4L1690.2 479.4L1695.9 479.4L1695.9 484.8L1695.9 501.6L1695.9 518.5L1695.9 535.3L1695.9 552.1L1695.9 568.9L1695.9 570.1L1690.2 570.1L1652.1 584.7L1631 568.9L1614.1 554.9L1597.2 552.1L1576.1 548.7L1550.7 535.3L1538 530.5L1500 523.3L1462 519.4L1423.9 526.9L1398.6 518.5L1394.4 501.6L1388.1 484.8ZM1652.1 516.3L1646.7 518.5L1652.1 520.9L1659.7 518.5ZM1370.7 535.3L1385.9 526.9L1398.6 535.3L1395.4 552.1L1408.7 568.9L1423.9 572.2L1442.9 585.7L1462 599.1L1497.3 585.7L1500 584.9L1501.8 585.7L1517.3 602.5L1519 619.3L1529.3 636.1L1538 640L1576.1 638.7L1614.1 646.6L1652.1 648.1L1690.2 640.7L1695.9 640.7L1695.9 653L1695.9 658.3L1690.2 658.3L1652.1 658.3L1614.1 658.3L1576.1 658.3L1538 658.3L1508.8 658.3L1508.8 653L1500 649.1L1495 653L1495 658.3L1462 658.3L1423.9 658.3L1385.9 658.3L1347.9 658.3L1344.1 658.3L1344.1 653L1347.9 650.8L1374.5 636.1L1380 619.3L1385.9 604.7L1387.3 602.5L1400.5 585.7L1385.9 575.2L1363.1 568.9L1363.1 552.1ZM1152 552.1L1152 549.1L1157.7 549.1L1195.7 551.4L1200.7 552.1L1212 568.9L1195.7 577.3L1157.7 581.8L1152 581.8L1152 568.9ZM1152 636.1L1152 635.1L1157.7 635.1L1195.7 620.9L1210 636.1L1231.2 653L1231.2 658.3L1195.7 658.3L1157.7 658.3L1152 658.3L1152 653Z" fill="#8fff70"/>
<path d="M1396.5 479.4L1423.9 479.4L1462 479.4L1500 479.4L1538 479.4L1576.1 479.4L1614.1 479.4L1646.6 479.4L1646.6 484.8L1652.1 488.4L1663.8 484.8L1663.8 479.4L1690.2 479.4L1695.9 479.4L1695.9 484.8L1695.9 501.6L1695.9 518.5L1695.9 535.3L1695.9 552.1L1695.9 563.3L1690.2 563.3L1677.4 568.9L1652.1 578.8L1638.9 568.9L1619.8 552.1L1614.1 547.8L1576.1 542.4L1562.6 535.3L1538 526L1500 518.8L1496.8 518.5L1462 516.7L1447 518.5L1423.9 522.9L1410.5 518.5L1402.3 501.6L1396.5 484.8ZM1652.1 512.4L1636.5 518.5L1652.1 525.4L1674 518.5ZM1384.9 535.3L1385.9 534.7L1386.7 535.3L1389.5 552.1L1385.9 564.7L1377.3 552.1ZM1152 568.9L1152 553.9L1157.7 553.9L1195.7 561.9L1201.8 568.9L1195.7 572L1157.7 577L1152 577ZM1411.5 585.7L1423.9 578.6L1434 585.7L1457.2 602.5L1462 605.5L1470.3 602.5L1500 591.3L1510.8 602.5L1513.9 619.3L1518.3 636.1L1500 644.2L1488.8 653L1488.8 658.3L1462 658.3L1423.9 658.3L1385.9 658.3L1353.4 658.3L1353.4 653L1381.6 636.1L1385.5 619.3L1385.9 618.4L1395.9 602.5ZM1180.5 636.1L1195.7 630.4L1201.1 636.1L1221.7 653L1221.7 658.3L1195.7 658.3L1157.7 658.3L1152 658.3L1152 653L1152 639.7L1157.7 639.7ZM1519.7 653L1538 644.9L1576.1 640.6L1614.1 650.6L1652.1 652.6L1690.2 646.5L1695.9 646.5L1695.9 653L1695.9 658.3L1690.2 658.3L1652.1 658.3L1614.1 658.3L1576.1 658.3L1538 658.3L1519.7 658.3Z" fill="#9fff60"/>
<path d="M1404.9 479.4L1423.9 479.4L1462 479.4L1500 479.4L1538 479.4L1576.1 479.4L1614.1 479.4L1639.1 479.4L1639.1 484.8L1652.1 493.2L1679.6 484.8L1679.6 479.4L1690.2 479.4L1695.9 479.4L1695.9 484.8L1695.9 501.6L1695.9 518.5L1695.9 535.3L1695.9 552.1L1695.9 556.5L1690.2 556.5L1662.2 568.9L1652.1 572.9L1646.9 568.9L1629.7 552.1L1614.1 540.3L1576.1 536.1L1574.5 535.3L1538 521.5L1522.2 518.5L1500 515.5L1462 514.4L1426.7 518.5L1423.9 519L1422.3 518.5L1410.2 501.6L1404.9 484.8ZM1652.1 508.5L1626.3 518.5L1652.1 529.9L1688.3 518.5ZM1152 568.9L1152 562.9L1157.7 562.9L1181.5 568.9L1157.7 572.1L1152 572.1ZM1422.5 585.7L1423.9 584.9L1425.1 585.7L1447 602.5L1462 611.8L1488.1 602.5L1500 598L1504.3 602.5L1508.8 619.3L1507.3 636.1L1500 639.4L1482.6 653L1482.6 658.3L1462 658.3L1423.9 658.3L1385.9 658.3L1365.3 658.3L1365.3 653L1385.9 639.3L1389.5 636.1L1394.2 619.3L1404.5 602.5ZM1152 653L1152 643.8L1157.7 643.8L1195.7 639.3L1212.2 653L1212.2 658.3L1195.7 658.3L1157.7 658.3L1152 658.3ZM1530.7 653L1538 649.7L1576.1 642.5L1611.5 653L1611.5 658.3L1576.1 658.3L1538 658.3L1530.7 658.3ZM1685.4 653L1690.2 652.2L1695.9 652.2L1695.9 653L1695.9 658.3L1690.2 658.3L1685.4 658.3Z" fill="#afff50"/>
<path d="M1413.3 479.4L1423.9 479.4L1462 479.4L1500 479.4L1538 479.4L1576.1 479.4L1614.1 479.4L1631.6 479.4L1631.6 484.8L1652.1 498.1L1690.2 495.3L1695.9 495.3L1695.9 501.6L1695.9 504.8L1690.2 504.8L1652.1 504.5L1616.1 518.5L1614.1 524.8L1576.1 528.4L1546 518.5L1538 517.3L1500 512.4L1462 512.1L1423.9 509.3L1418.1 501.6L1413.3 484.8ZM1637.9 535.3L1652.1 534.4L1666.4 535.3L1682.2 552.1L1652.1 565.4L1639.6 552.1ZM1413.1 602.5L1423.9 592.5L1436.8 602.5L1462 618.1L1500 607.8L1503.7 619.3L1500 630.9L1488.1 636.1L1476.4 653L1476.4 658.3L1462 658.3L1423.9 658.3L1385.9 658.3L1377.2 658.3L1377.2 653L1385.9 647.2L1398.4 636.1L1403.1 619.3ZM1152 653L1152 647.8L1157.7 647.8L1195.7 647.2L1202.7 653L1202.7 658.3L1195.7 658.3L1157.7 658.3L1152 658.3ZM1540.7 653L1576.1 644.4L1605 653L1605 658.3L1576.1 658.3L1540.7 658.3Z" fill="#bfff40"/>
<path d="M1421.7 479.4L1423.9 479.4L1462 479.4L1500 479.4L1538 479.4L1576.1 479.4L1614.1 479.4L1624.1 479.4L1624.1 484.8L1642.6 501.6L1614.1 510L1585.6 518.5L1576.1 520.6L1569.7 518.5L1538 513.8L1500 509.2L1462 509.7L1426.7 501.6L1423.9 493.2L1421.7 484.8ZM1649.5 552.1L1652.1 547.9L1658.5 552.1L1652.1 554.9ZM1421.6 602.5L1423.9 600.4L1426.7 602.5L1447.7 619.3L1457.2 636.1L1462 638.9L1470.2 653L1470.2 658.3L1462 658.3L1423.9 658.3L1389.7 658.3L1389.7 653L1407.3 636.1L1412 619.3ZM1152 653L1152 651.9L1157.7 651.9L1176.7 653L1176.7 658.3L1157.7 658.3L1152 658.3ZM1548.6 653L1576.1 646.3L1598.5 653L1598.5 658.3L1576.1 658.3L1548.6 658.3Z" fill="#cfff30"/>
<path d="M1428.3 479.4L1462 479.4L1500 479.4L1538 479.4L1576.1 479.4L1614.1 479.4L1616.6 479.4L1616.6 484.8L1614.1 495.3L1612.3 501.6L1576.1 515.9L1538 510.3L1500 506.1L1462 507.4L1436.8 501.6L1428.3 484.8ZM1421 619.3L1423.9 614.1L1429.9 619.3L1439.4 636.1L1462 649.4L1464 653L1464 658.3L1462 658.3L1423.9 658.3L1404 658.3L1404 653L1416.2 636.1ZM1556.5 653L1576.1 648.2L1592.1 653L1592.1 658.3L1576.1 658.3L1556.5 658.3Z" fill="#dfff20"/>
<path d="M1434.2 479.4L1462 479.4L1500 479.4L1538 479.4L1576.1 479.4L1611.3 479.4L1611.3 484.8L1603.4 501.6L1576.1 512.4L1538 506.8L1500 502.9L1462 505.1L1447 501.6L1434.2 484.8ZM1418.2 653L1423.9 640.3L1438.2 653L1438.2 658.3L1423.9 658.3L1418.2 658.3ZM1564.4 653L1576.1 650.1L1585.6 653L1585.6 658.3L1576.1 658.3L1564.4 658.3Z" fill="#efff10"/>
<path d="M1440.2 479.4L1462 479.4L1500 479.4L1538 479.4L1576.1 479.4L1607.1 479.4L1607.1 484.8L1594.5 501.6L1576.1 508.9L1538 503.3L1521.4 501.6L1500 495.3L1478.6 501.6L1462 502.7L1457.2 501.6L1440.2 484.8ZM1572.4 653L1576.1 652.1L1579.1 653L1579.1 658.3L1576.1 658.3L1572.4 658.3Z" fill="#ffff00"/>
<path d="M1446.1 479.4L1462 479.4L1500 479.4L1500 484.8L1462 498.8L1446.1 484.8ZM1500 479.4L1538 479.4L1576.1 479.4L1602.9 479.4L1602.9 484.8L1585.6 501.6L1576.1 505.4L1550.7 501.6L1538 499.2L1500 484.8Z" fill="#ffef00"/>
<path d="M1452.1 479.4L1462 479.4L1485.7 479.4L1485.7 484.8L1462 493.6L1452.1 484.8ZM1511.9 479.4L1538 479.4L1576.1 479.4L1598.7 479.4L1598.7 484.8L1576.7 501.6L1576.1 501.9L1574.5 501.6L1538 494.7L1511.9 484.8Z" fill="#ffdf00"/>
<path d="M1458 479.4L1462 479.4L1471.5 479.4L1471.5 484.8L1462 488.3L1458 484.8ZM1523.8 479.4L1538 479.4L1576.1 479.4L1594.5 479.4L1594.5 484.8L1576.1 498.7L1538 490.2L1523.8 484.8Z" fill="#ffcf00"/>
<path d="M1535.7 479.4L1538 479.4L1576.1 479.4L1590.3 479.4L1590.3 484.8L1576.1 495.5L1538 485.7L1535.7 484.8Z" fill="#ffbf00"/>
<path d="M1547.5 479.4L1576.1 479.4L1586.1 479.4L1586.1 484.8L1576.1 492.4L1547.5 484.8Z" fill="#ffaf00"/>
<path d="M1559.4 479.4L1576.1 479.4L1581.9 479.4L1581.9 484.8L1576.1 489.2L1559.4 484.8Z" fill="#ff9f00"/>
<path d="M1571.3 479.4L1576.1 479.4L1577.7 479.4L1577.7 484.8L1576.1 486.1L1571.3 484.8Z" fill="#ff8f00"/>
</g>
<polyline points="1271.8,492.7 1281.6,485.2" class="zl"/>
<polyline points="1157.6,548.4 1195.6,551.2 1212.2,552.3 1211.1,569.4 1195.6,577.4 1157.6,580.1" class="zl"/>
<polyline points="1157.6,635.9 1195.6,620.2 1209.9,635.9 1230.4,652.7" class="zl"/>
<polyline points="1386.7,485.2 1390.8,501.6 1397.6,518.5 1385.8,523.4 1370.3,545.5 1354.4,568.3 1385.8,575.5 1403.3,569.4 1394.2,551.9 1404.4,535.3 1423.7,525.4 1462,520.5 1499.9,524.4 1537.9,530 1576.1,548.2 1614.1,554.6 1652.1,584.2 1690.1,570.1" class="zl"/>
<polyline points="1343,652.7 1374.9,635.9 1380.5,619.1 1385.8,602.4 1395.3,585.4 1423.7,571.7 1462,599 1500.4,584.2 1515.2,602.4 1516.3,622.9 1520.9,636.5 1537.9,640 1576.1,641.1 1614.1,645.7 1652.1,646.8 1690.1,639.3" class="zl"/>
<polyline points="1490.1,652.7 1500.4,645.7 1508.8,652.7" class="zl"/>
<polyline points="1650.7,519.3 1652.8,517.7 1655.3,519.3 1652.8,520.9 1650.7,519.3" class="zl"/>
<polyline points="1651.2,485 1653.5,485.6" class="zl"/>
<path d="M1081.6 720.2v-6.5M1081.6 451.2v6.5M1157.7 720.2v-6.5M1157.7 451.2v6.5M1233.8 720.2v-6.5M1233.8 451.2v6.5M1309.8 720.2v-6.5M1309.8 451.2v6.5M1385.9 720.2v-6.5M1385.9 451.2v6.5M1462 720.2v-6.5M1462 451.2v6.5M1538 720.2v-6.5M1538 451.2v6.5M1614.1 720.2v-6.5M1614.1 451.2v6.5M1690.2 720.2v-6.5M1690.2 451.2v6.5M1043.6 720.2h7M1728.2 720.2h-7M1043.6 653h7M1728.2 653h-7M1043.6 585.7h7M1728.2 585.7h-7M1043.6 518.5h7M1728.2 518.5h-7M1043.6 451.2h7M1728.2 451.2h-7" class="tk"/>
<rect x="1043.6" y="451.2" width="684.6" height="269" class="ax"/>
<text x="1052.2" y="749.8" class="t25">−80</text>
<text x="1128.3" y="749.8" class="t25">−60</text>
<text x="1204.4" y="749.8" class="t25">−40</text>
<text x="1280.4" y="749.8" class="t25">−20</text>
<text x="1378.8" y="749.8" class="t25">0</text>
<text x="1447.7" y="749.8" class="t25">20</text>
<text x="1523.8" y="749.8" class="t25">40</text>
<text x="1599.8" y="749.8" class="t25">60</text>
<text x="1675.9" y="749.8" class="t25">80</text>
<text x="1039" y="729.8" class="t25 e">70</text>
<text x="1039" y="662.6" class="t25 e">80</text>
<text x="1039" y="595.3" class="t25 e">90</text>
<text x="1039" y="528.1" class="t25 e">100</text>
<text x="1039" y="460.8" class="t25 e">110</text>
<text transform="translate(981.9 584.8) rotate(-90)" class="t25 m yl">altitude / km</text>
<text y="431" x="1212.3 1228.4 1235.6 1253.9 1258.9 1268 1283.7 1297.9 1312.2 1326.2 1330.2 1339.1 1360.5 1374.3 1388.5 1398.6 1409.6 1417.5 1431.1 1449.7 1463.9 1480.2 1486.2 1496.7 1505 1521.9 1538.9 1554" font-size="18">TIDI Zonal Mean (JULY) (ASF)</text>
<text y="778.9" x="1320.6 1326.9 1343.2 1351.4 1358.1 1365.7 1381.8 1398.7 1408.8 1422.7 1427.7 1439.5" font-size="18">latitude / °</text>
<text x="1049.4" y="438" font-size="27" letter-spacing="1.1">(d)</text>
<rect x="1756" y="451.2" width="37.1" height="269" fill="#00008f"/>
<rect x="1756" y="451.2" width="37.1" height="264.8" fill="#00009f"/>
<rect x="1756" y="451.2" width="37.1" height="260.6" fill="#0000af"/>
<rect x="1756" y="451.2" width="37.1" height="256.4" fill="#0000bf"/>
<rect x="1756" y="451.2" width="37.1" height="252.2" fill="#0000cf"/>
<rect x="1756" y="451.2" width="37.1" height="248" fill="#0000df"/>
<rect x="1756" y="451.2" width="37.1" height="243.8" fill="#0000ef"/>
<rect x="1756" y="451.2" width="37.1" height="239.6" fill="#0000ff"/>
<rect x="1756" y="451.2" width="37.1" height="235.4" fill="#0010ff"/>
<rect x="1756" y="451.2" width="37.1" height="231.2" fill="#0020ff"/>
<rect x="1756" y="451.2" width="37.1" height="227" fill="#0030ff"/>
<rect x="1756" y="451.2" width="37.1" height="222.8" fill="#0040ff"/>
<rect x="1756" y="451.2" width="37.1" height="218.6" fill="#0050ff"/>
<rect x="1756" y="451.2" width="37.1" height="214.4" fill="#0060ff"/>
<rect x="1756" y="451.2" width="37.1" height="210.2" fill="#0070ff"/>
<rect x="1756" y="451.2" width="37.1" height="206" fill="#0080ff"/>
<rect x="1756" y="451.2" width="37.1" height="201.8" fill="#008fff"/>
<rect x="1756" y="451.2" width="37.1" height="197.5" fill="#009fff"/>
<rect x="1756" y="451.2" width="37.1" height="193.3" fill="#00afff"/>
<rect x="1756" y="451.2" width="37.1" height="189.1" fill="#00bfff"/>
<rect x="1756" y="451.2" width="37.1" height="184.9" fill="#00cfff"/>
<rect x="1756" y="451.2" width="37.1" height="180.7" fill="#00dfff"/>
<rect x="1756" y="451.2" width="37.1" height="176.5" fill="#00efff"/>
<rect x="1756" y="451.2" width="37.1" height="172.3" fill="#00ffff"/>
<rect x="1756" y="451.2" width="37.1" height="168.1" fill="#10ffef"/>
<rect x="1756" y="451.2" width="37.1" height="163.9" fill="#20ffdf"/>
<rect x="1756" y="451.2" width="37.1" height="159.7" fill="#30ffcf"/>
<rect x="1756" y="451.2" width="37.1" height="155.5" fill="#40ffbf"/>
<rect x="1756" y="451.2" width="37.1" height="151.3" fill="#50ffaf"/>
<rect x="1756" y="451.2" width="37.1" height="147.1" fill="#60ff9f"/>
<rect x="1756" y="451.2" width="37.1" height="142.9" fill="#70ff8f"/>
<rect x="1756" y="451.2" width="37.1" height="138.7" fill="#80ff80"/>
<rect x="1756" y="451.2" width="37.1" height="134.5" fill="#8fff70"/>
<rect x="1756" y="451.2" width="37.1" height="130.3" fill="#9fff60"/>
<rect x="1756" y="451.2" width="37.1" height="126.1" fill="#afff50"/>
<rect x="1756" y="451.2" width="37.1" height="121.9" fill="#bfff40"/>
<rect x="1756" y="451.2" width="37.1" height="117.7" fill="#cfff30"/>
<rect x="1756" y="451.2" width="37.1" height="113.5" fill="#dfff20"/>
<rect x="1756" y="451.2" width="37.1" height="109.3" fill="#efff10"/>
<rect x="1756" y="451.2" width="37.1" height="105.1" fill="#ffff00"/>
<rect x="1756" y="451.2" width="37.1" height="100.9" fill="#ffef00"/>
<rect x="1756" y="451.2" width="37.1" height="96.7" fill="#ffdf00"/>
<rect x="1756" y="451.2" width="37.1" height="92.5" fill="#ffcf00"/>
<rect x="1756" y="451.2" width="37.1" height="88.3" fill="#ffbf00"/>
<rect x="1756" y="451.2" width="37.1" height="84.1" fill="#ffaf00"/>
<rect x="1756" y="451.2" width="37.1" height="79.9" fill="#ff9f00"/>
<rect x="1756" y="451.2" width="37.1" height="75.7" fill="#ff8f00"/>
<rect x="1756" y="451.2" width="37.1" height="71.5" fill="#ff8000"/>
<rect x="1756" y="451.2" width="37.1" height="67.2" fill="#ff7000"/>
<rect x="1756" y="451.2" width="37.1" height="63" fill="#ff6000"/>
<rect x="1756" y="451.2" width="37.1" height="58.8" fill="#ff5000"/>
<rect x="1756" y="451.2" width="37.1" height="54.6" fill="#ff4000"/>
<rect x="1756" y="451.2" width="37.1" height="50.4" fill="#ff3000"/>
<rect x="1756" y="451.2" width="37.1" height="46.2" fill="#ff2000"/>
<rect x="1756" y="451.2" width="37.1" height="42" fill="#ff1000"/>
<rect x="1756" y="451.2" width="37.1" height="37.8" fill="#ff0000"/>
<rect x="1756" y="451.2" width="37.1" height="33.6" fill="#ef0000"/>
<rect x="1756" y="451.2" width="37.1" height="29.4" fill="#df0000"/>
<rect x="1756" y="451.2" width="37.1" height="25.2" fill="#cf0000"/>
<rect x="1756" y="451.2" width="37.1" height="21" fill="#bf0000"/>
<rect x="1756" y="451.2" width="37.1" height="16.8" fill="#af0000"/>
<rect x="1756" y="451.2" width="37.1" height="12.6" fill="#9f0000"/>
<rect x="1756" y="451.2" width="37.1" height="8.4" fill="#8f0000"/>
<rect x="1756" y="451.2" width="37.1" height="4.2" fill="#800000"/>
<path d="M1756 675.4h2.5M1793.1 675.4h-2.5M1756 630.5h2.5M1793.1 630.5h-2.5M1756 585.7h2.5M1793.1 585.7h-2.5M1756 540.9h2.5M1793.1 540.9h-2.5M1756 496h2.5M1793.1 496h-2.5" class="tk"/>
<rect x="1756" y="451.2" width="37.1" height="269" class="ax"/>
<text x="1798.1" y="460.6" class="t25">60</text>
<text x="1798.1" y="505.6" class="t25">40</text>
<text x="1798.1" y="550.6" class="t25">20</text>
<text x="1798.1" y="595.6" class="t25">0</text>
<text x="1798.1" y="640.6" class="t25">−20</text>
<text x="1798.1" y="685.6" class="t25">−40</text>
<text x="1798.1" y="730.6" class="t25">−60</text>
<text transform="translate(1870.5 583.1) rotate(-90)" class="t25 m cl2">merid / m/s</text>
</g>
</svg></body></html>
